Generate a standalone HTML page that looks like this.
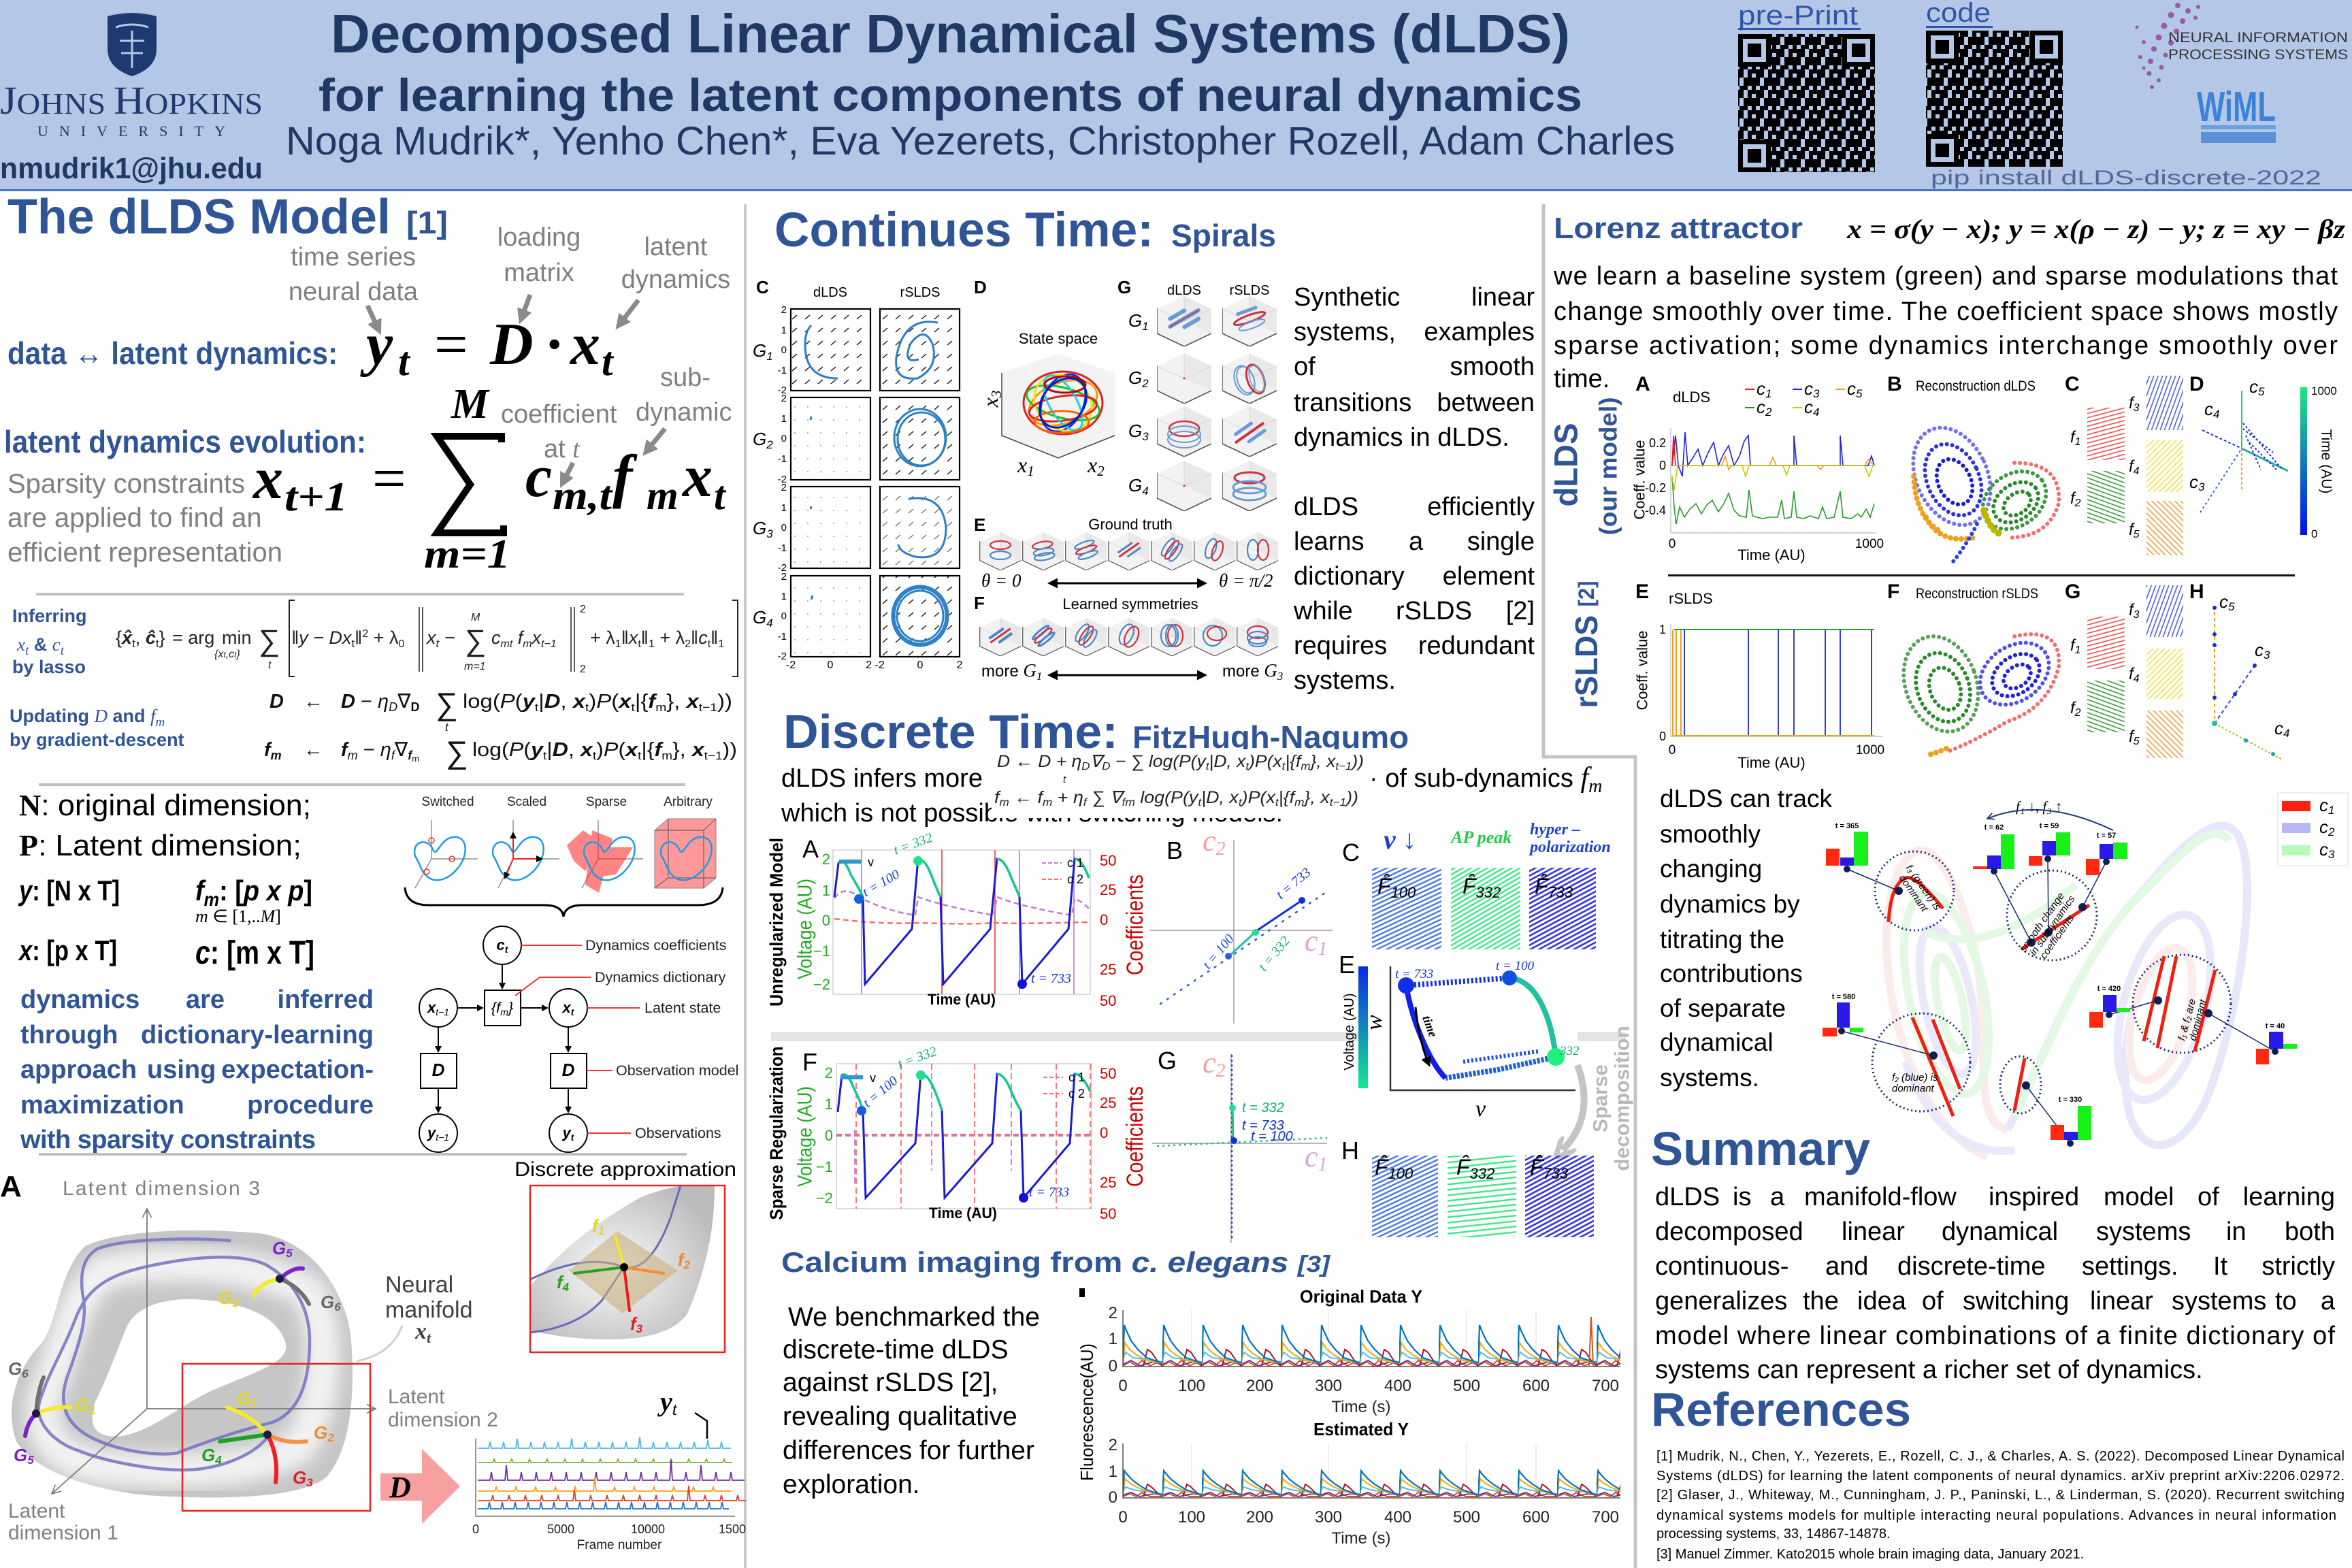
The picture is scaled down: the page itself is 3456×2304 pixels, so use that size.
<!DOCTYPE html>
<html><head><meta charset="utf-8"><title>dLDS poster</title>
<style>
html,body{margin:0;padding:0;background:#fff;width:3456px;height:2304px;overflow:hidden}
svg{display:block}
text{font-family:"Liberation Sans",sans-serif}
.sr{font-family:"Liberation Serif",serif}
.m{font-family:"Liberation Serif",serif;font-style:italic}
.mb{font-family:"Liberation Serif",serif;font-style:italic;font-weight:bold}
.hb{font-weight:bold;fill:#2f5597}
.g{fill:#7f7f7f}
</style></head><body>
<svg width="3456" height="2304" viewBox="0 0 3456 2304" xmlns="http://www.w3.org/2000/svg">
<defs>
<marker id="ak" viewBox="0 0 10 10" refX="8" refY="5" markerWidth="5" markerHeight="5" orient="auto-start-reverse"><path d="M0,0L10,5L0,10z" fill="#000"/></marker>
<marker id="ag" viewBox="0 0 10 10" refX="6" refY="5" markerWidth="3.2" markerHeight="3.2" orient="auto"><path d="M0,0L10,5L0,10z" fill="#8a8a8a"/></marker>
<marker id="ao" viewBox="0 0 10 10" refX="9" refY="5" markerWidth="9" markerHeight="9" orient="auto"><path d="M1,1L9,5L1,9" fill="none" stroke="#777" stroke-width="1"/></marker>
<marker id="an" viewBox="0 0 10 10" refX="9" refY="5" markerWidth="6" markerHeight="6" orient="auto"><path d="M1,1L9,5L1,9" fill="none" stroke="#203a70" stroke-width="1.5"/></marker>
<marker id="agr" viewBox="0 0 10 10" refX="5" refY="5" markerWidth="3" markerHeight="3" orient="auto"><path d="M0,0L10,5L0,10" fill="none" stroke="#c4c4c4" stroke-width="2.5"/></marker>
<pattern id="qr" width="30" height="30" patternUnits="userSpaceOnUse">
<rect x="0" y="0" width="6" height="6"/><rect x="12" y="0" width="6" height="6"/><rect x="18" y="0" width="6" height="6"/><rect x="24" y="0" width="6" height="6"/>
<rect x="6" y="6" width="6" height="6"/><rect x="12" y="6" width="6" height="6"/><rect x="24" y="6" width="6" height="6"/>
<rect x="0" y="12" width="6" height="6"/><rect x="6" y="12" width="6" height="6"/><rect x="18" y="12" width="6" height="6"/><rect x="24" y="12" width="6" height="6"/>
<rect x="0" y="18" width="6" height="6"/><rect x="6" y="18" width="6" height="6"/><rect x="18" y="18" width="6" height="6"/>
<rect x="0" y="24" width="6" height="6"/><rect x="12" y="24" width="6" height="6"/><rect x="18" y="24" width="6" height="6"/><rect x="24" y="24" width="6" height="6"/>
</pattern>
<pattern id="hbl" width="6" height="6" patternUnits="userSpaceOnUse" patternTransform="rotate(65)"><rect width="2.4" height="6" fill="#4a78e0"/></pattern>
<pattern id="hgr" width="6" height="6" patternUnits="userSpaceOnUse" patternTransform="rotate(60)"><rect width="2.4" height="6" fill="#3ee88a"/></pattern>
<pattern id="hvi" width="6" height="6" patternUnits="userSpaceOnUse" patternTransform="rotate(62)"><rect width="2.6" height="6" fill="#3434e0"/></pattern>
<pattern id="hgh" width="8" height="8" patternUnits="userSpaceOnUse" patternTransform="rotate(-6)"><rect width="8" height="2.4" fill="#3ee88a"/></pattern>
<pattern id="qv" width="19" height="19" patternUnits="userSpaceOnUse"><path d="M5,13L12,7" stroke="#111" stroke-width="1.4"/></pattern>
<pattern id="dt" width="19" height="19" patternUnits="userSpaceOnUse"><circle cx="9" cy="9" r="0.9" fill="#777"/></pattern>
<pattern id="pr" width="6" height="6" patternUnits="userSpaceOnUse" patternTransform="rotate(75)"><rect width="1.6" height="6" fill="#e85050"/></pattern>
<pattern id="pg" width="6" height="6" patternUnits="userSpaceOnUse" patternTransform="rotate(110)"><rect width="1.6" height="6" fill="#3a9a3a"/></pattern>
<pattern id="pb" width="6" height="6" patternUnits="userSpaceOnUse" patternTransform="rotate(20)"><rect width="1.6" height="6" fill="#5060e0"/></pattern>
<pattern id="py" width="6" height="6" patternUnits="userSpaceOnUse" patternTransform="rotate(45)"><rect width="1.6" height="6" fill="#f0e040"/></pattern>
<pattern id="po" width="6" height="6" patternUnits="userSpaceOnUse" patternTransform="rotate(135)"><rect width="1.6" height="6" fill="#f0a040"/></pattern>
<pattern id="ca1" x="1650" y="1925" width="58" height="84" patternUnits="userSpaceOnUse">
<path d="M0,72 L4,62 L15,70 L58,76" fill="none" stroke="#4dbeee" stroke-width="2"/>
<path d="M0,82 L10,76 L20,82 L28,74 L40,82 L50,77 L58,82" fill="none" stroke="#d95319" stroke-width="2"/>
<path d="M0,80 L12,74 L25,82 L45,76 L58,80" fill="none" stroke="#7e2f8e" stroke-width="2"/>
<path d="M30,82 L36,58 L42,62 L50,74 L58,82" fill="none" stroke="#a2142f" stroke-width="2"/>
<path d="M0,78 L3,48 L10,58 L20,66 L35,74 L58,78" fill="none" stroke="#edb120" stroke-width="2.2"/>
<path d="M0,78 L2,22 L5,30 L12,45 L22,58 L35,70 L58,78" fill="none" stroke="#0072bd" stroke-width="2.2"/>
</pattern>
<pattern id="ca2" x="1650" y="2121" width="58" height="80" patternUnits="userSpaceOnUse">
<path d="M0,70 L4,64 L15,68 L58,74" fill="none" stroke="#4dbeee" stroke-width="2"/>
<path d="M0,78 L10,74 L20,78 L28,72 L40,78 L58,78" fill="none" stroke="#d95319" stroke-width="2"/>
<path d="M0,76 L12,72 L25,78 L45,74 L58,76" fill="none" stroke="#7e2f8e" stroke-width="2"/>
<path d="M30,78 L36,60 L42,64 L50,72 L58,78" fill="none" stroke="#a2142f" stroke-width="2"/>
<path d="M0,76 L3,52 L10,58 L20,64 L35,70 L58,76" fill="none" stroke="#edb120" stroke-width="2.2"/>
<path d="M0,76 L2,40 L5,44 L12,52 L22,60 L35,68 L58,76" fill="none" stroke="#0072bd" stroke-width="2.2"/>
</pattern>
<linearGradient id="cb1" x1="0" y1="0" x2="0" y2="1"><stop offset="0" stop-color="#0a2ae6"/><stop offset="1" stop-color="#15e890"/></linearGradient>
<linearGradient id="cb2" x1="0" y1="0" x2="0" y2="1"><stop offset="0" stop-color="#20e880"/><stop offset="1" stop-color="#0010ee"/></linearGradient>
<radialGradient id="blob2" cx="0.45" cy="0.55" r="0.6"><stop offset="0" stop-color="#fbfbfb"/><stop offset="1" stop-color="#bcbcbc"/></radialGradient>
<filter id="bl"><feGaussianBlur stdDeviation="12"/></filter>
<clipPath id="ringclip"><path clip-rule="evenodd" d="M125,1831 C180,1805 300,1805 380,1812 C460,1822 510,1900 516,1970 C522,2050 515,2130 480,2170 C440,2205 300,2203 214,2197 C150,2190 60,2170 25,2120 C5,2070 25,2010 60,1975 C85,1945 85,1870 125,1831 Z M186,1950 C200,1920 240,1905 300,1910 C360,1915 410,1935 420,1975 C425,2000 380,2015 321,2039 C270,2060 230,2100 180,2110 C135,2115 130,2090 140,2060 C155,2030 170,1990 186,1950 Z"/></clipPath>
<clipPath id="dclip"><rect x="779" y="1742" width="286" height="245"/></clipPath>
<symbol id="cb" viewBox="-40 -37 80 74"><polygon points="0,-37 40,-18 40,18 0,37 -40,18 -40,-18" fill="#f2f2f2"/><polygon points="0,-37 40,-18 40,18 0,0" fill="#e9e9e9"/><polyline points="-40,-20 -40,18 0,37 40,18" fill="none" stroke="#555" stroke-width="1.6"/><line x1="0" y1="0" x2="0" y2="-37" stroke="#d8d8d8"/><line x1="0" y1="0" x2="-40" y2="-18" stroke="#d8d8d8"/><line x1="0" y1="0" x2="40" y2="-18" stroke="#d8d8d8"/></symbol>
<path id="loop" d="M-38,-2 C-44,-24 -20,-30 -12,-12 C-6,2 -2,-28 18,-30 C40,-32 40,-4 26,14 C14,30 -6,40 -20,28 C-30,20 -30,10 -38,-2Z" fill="none" stroke="#1e9be8" stroke-width="2.5"/>
</defs>

<!-- ================= HEADER ================= -->
<rect x="0" y="0" width="3456" height="280" fill="#b4c7e7"/>
<rect x="0" y="278" width="3456" height="3" fill="#4472c4"/>
<text x="486" y="77" font-size="80" font-weight="bold" fill="#203864" textLength="1821" lengthAdjust="spacingAndGlyphs">Decomposed Linear Dynamical Systems (dLDS)</text>
<text x="468" y="163" font-size="68" font-weight="bold" fill="#203864" textLength="1857" lengthAdjust="spacingAndGlyphs">for learning the latent components of neural dynamics</text>
<text x="420" y="227" font-size="58" fill="#203864" textLength="2041" lengthAdjust="spacingAndGlyphs">Noga Mudrik*, Yenho Chen*, Eva Yezerets, Christopher Rozell, Adam Charles</text>
<!-- JHU -->
<path d="M158,24 Q194,14 230,24 L230,72 Q230,100 194,112 Q158,100 158,72 Z" fill="#1f3a70"/>
<path d="M170,40 Q194,32 218,40 M194,45 L194,100 M176,60 L212,60 M178,78 L210,78" stroke="#b4c7e7" stroke-width="3" fill="none"/>
<text y="167" class="sr" fill="#1f3a70" textLength="386" lengthAdjust="spacingAndGlyphs" x="0"><tspan font-size="58">J</tspan><tspan font-size="44">OHNS </tspan><tspan font-size="58">H</tspan><tspan font-size="44">OPKINS</tspan></text>
<text x="55" y="200" class="sr" font-size="22" fill="#1f3a70" textLength="276" lengthAdjust="spacing">UNIVERSITY</text>
<text x="0" y="262" font-size="44" font-weight="bold" fill="#203864" textLength="386" lengthAdjust="spacingAndGlyphs">nmudrik1@jhu.edu</text>
<!-- QR codes -->
<text x="2554" y="36" font-size="40" fill="#2e56a8" textLength="176" lengthAdjust="spacingAndGlyphs">pre-Print</text>
<rect x="2554" y="41" width="180" height="3" fill="#2e56a8"/>
<rect x="2554" y="50" width="201" height="203" fill="url(#qr)"/>
<g><rect x="2554" y="50" width="48" height="48"/><rect x="2561" y="57" width="34" height="34" fill="#b4c7e7"/><rect x="2568" y="64" width="20" height="20"/>
<rect x="2707" y="50" width="48" height="48"/><rect x="2714" y="57" width="34" height="34" fill="#b4c7e7"/><rect x="2721" y="64" width="20" height="20"/>
<rect x="2554" y="205" width="48" height="48"/><rect x="2561" y="212" width="34" height="34" fill="#b4c7e7"/><rect x="2568" y="219" width="20" height="20"/></g>
<text x="2830" y="32" font-size="40" fill="#2e56a8" textLength="95" lengthAdjust="spacingAndGlyphs">code</text>
<rect x="2830" y="38" width="98" height="3" fill="#2e56a8"/>
<rect x="2830" y="45" width="201" height="200" fill="url(#qr)"/>
<g><rect x="2830" y="45" width="48" height="48"/><rect x="2837" y="52" width="34" height="34" fill="#b4c7e7"/><rect x="2844" y="59" width="20" height="20"/>
<rect x="2983" y="45" width="48" height="48"/><rect x="2990" y="52" width="34" height="34" fill="#b4c7e7"/><rect x="2997" y="59" width="20" height="20"/>
<rect x="2830" y="197" width="48" height="48"/><rect x="2837" y="204" width="34" height="34" fill="#b4c7e7"/><rect x="2844" y="211" width="20" height="20"/></g>
<text x="2837" y="271" font-size="30" font-family="Liberation Mono, monospace" fill="#52679c" textLength="574" lengthAdjust="spacingAndGlyphs">pip install dLDS-discrete-2022</text>
<!-- NeurIPS -->
<g fill="#9a5aa8">
<circle cx="3200" cy="8" r="4"/><circle cx="3215" cy="16" r="4"/><circle cx="3190" cy="22" r="4.5"/><circle cx="3207" cy="31" r="4"/><circle cx="3180" cy="38" r="4.5"/><circle cx="3198" cy="46" r="4"/><circle cx="3172" cy="55" r="4.5"/><circle cx="3190" cy="63" r="4"/><circle cx="3165" cy="72" r="4"/><circle cx="3182" cy="81" r="3.5"/><circle cx="3160" cy="90" r="4"/><circle cx="3176" cy="99" r="3.5"/><circle cx="3158" cy="108" r="3.5"/><circle cx="3172" cy="118" r="3"/><circle cx="3162" cy="128" r="3"/><circle cx="3150" cy="62" r="3"/><circle cx="3145" cy="84" r="3"/><circle cx="3226" cy="26" r="3"/><circle cx="3230" cy="10" r="3"/><circle cx="3140" cy="40" r="2.5"/><circle cx="3150" cy="100" r="2.5"/>
</g>
<text x="3186" y="62" font-size="21" fill="#333" textLength="264" lengthAdjust="spacingAndGlyphs">NEURAL INFORMATION</text>
<text x="3186" y="87" font-size="21" fill="#333" textLength="264" lengthAdjust="spacingAndGlyphs">PROCESSING SYSTEMS</text>
<text x="3228" y="178" font-size="62" font-weight="bold" fill="#3b82d8" textLength="116" lengthAdjust="spacingAndGlyphs">WiML</text>
<rect x="3234" y="184" width="110" height="6" fill="#6aa0e0"/>
<rect x="3234" y="194" width="110" height="16" fill="#5a90d8"/>

<!-- ============ DIVIDERS ============ -->
<rect x="1093" y="300" width="4" height="2004" fill="#c8c8c8"/>
<path d="M2268,300 L2268,1112 L2403,1112 L2403,2304" fill="none" stroke="#c4c4c4" stroke-width="5"/>

<!-- ================= LEFT COLUMN ================= -->
<text x="11" y="343" font-size="72" class="hb" textLength="563" lengthAdjust="spacingAndGlyphs">The dLDS Model</text>
<text x="597" y="343" font-size="46" class="hb" textLength="61" lengthAdjust="spacingAndGlyphs">[1]</text>
<g font-size="38" class="g" text-anchor="middle">
<text x="519" y="390">time series</text><text x="519" y="441">neural data</text>
<text x="792" y="361">loading</text><text x="792" y="413">matrix</text>
<text x="993" y="375">latent</text><text x="993" y="423">dynamics</text>
</g>
<g stroke="#8a8a8a" stroke-width="7" marker-end="url(#ag)">
<line x1="540" y1="449" x2="556" y2="484"/>
<line x1="779" y1="433" x2="766" y2="468"/>
<line x1="938" y1="441" x2="910" y2="477"/>
<line x1="977" y1="630" x2="950" y2="663"/>
<line x1="842" y1="680" x2="827" y2="709"/>
</g>
<text x="11" y="535" font-size="46" class="hb" textLength="485" lengthAdjust="spacingAndGlyphs">data ↔ latent dynamics:</text>
<text class="mb" font-size="88" x="538" y="535">y</text><text class="mb" font-size="60" x="585" y="551">t</text>
<text class="sr" font-size="88" x="638" y="535">=</text>
<text class="mb" font-size="88" x="720" y="535">D</text>
<text class="sr" font-size="88" font-weight="bold" x="800" y="535">·</text>
<text class="mb" font-size="88" x="838" y="535">x</text><text class="mb" font-size="60" x="884" y="551">t</text>
<g font-size="38" class="g">
<text x="970" y="567">sub-</text>
<text x="736" y="621">coefficient</text>
<text x="934" y="618">dynamic</text>
<text x="799" y="672">at <tspan class="m">t</tspan></text>
</g>
<text class="mb" font-size="62" x="663" y="614">M</text>
<path d="M737,650 L737,641 L642,641 L691,712 L642,783 L740,783 L740,772" fill="none" stroke="#000" stroke-width="10"/>
<text class="mb" font-size="60" x="623" y="834" textLength="127" lengthAdjust="spacingAndGlyphs">m=1</text>
<text x="6" y="665" font-size="46" class="hb" textLength="532" lengthAdjust="spacingAndGlyphs">latent dynamics evolution:</text>
<text class="mb" font-size="88" x="372" y="732">x</text><text class="mb" font-size="60" x="418" y="750" textLength="93" lengthAdjust="spacingAndGlyphs">t+1</text>
<text class="sr" font-size="88" x="547" y="732">=</text>
<text class="mb" font-size="88" x="772" y="729">c</text><text class="mb" font-size="60" x="812" y="748" textLength="87" lengthAdjust="spacingAndGlyphs">m,t</text>
<text class="mb" font-size="88" x="900" y="729">f</text><text class="mb" font-size="60" x="950" y="748">m</text>
<text class="mb" font-size="88" x="1003" y="729">x</text><text class="mb" font-size="60" x="1049" y="748">t</text>
<g font-size="40" class="g">
<text x="11" y="724">Sparsity constraints</text>
<text x="11" y="774">are applied  to find an</text>
<text x="11" y="825">efficient representation</text>
</g>
<rect x="53" y="871" width="952" height="4" fill="#bfbfbf"/>
<!-- lasso -->
<g font-size="27" class="hb">
<text x="18" y="914">Inferring</text>
<text x="25" y="956"><tspan class="m" font-weight="normal">x</tspan><tspan class="m" font-weight="normal" font-size="19" dy="6">t</tspan><tspan dy="-6"> &amp; </tspan><tspan class="m" font-weight="normal">c</tspan><tspan class="m" font-weight="normal" font-size="19" dy="6">t</tspan></text>
<text x="18" y="989">by lasso</text>
</g>
<g class="sr" font-size="27" fill="#222">
<text x="170" y="946">{<tspan font-style="italic" font-weight="bold">x̂</tspan><tspan font-size="17" dy="5">t</tspan><tspan dy="-5">, </tspan><tspan font-style="italic" font-weight="bold">ĉ</tspan><tspan font-size="17" dy="5">t</tspan><tspan dy="-5">}</tspan></text>
<text x="253" y="946">= arg</text><text x="326" y="946">min</text>
<text x="315" y="966" font-size="16" font-style="italic">{x<tspan font-size="12">t</tspan>,c<tspan font-size="12">t</tspan>}</text>
<text x="380" y="956" font-size="44">∑</text><text x="394" y="982" font-size="16" font-style="italic">t</text>
<text x="428" y="946"><tspan font-style="italic">‖y − Dx</tspan><tspan font-size="17" dy="5">t</tspan><tspan dy="-5">‖</tspan><tspan font-size="16" dy="-10">2</tspan><tspan dy="10"> + λ</tspan><tspan font-size="16" dy="5">0</tspan></text>
<text x="627" y="946" font-style="italic">x<tspan font-size="17" dy="5">t</tspan><tspan dy="-5"> −</tspan></text>
<text x="683" y="956" font-size="44">∑</text><text x="692" y="912" font-size="16" font-style="italic">M</text><text x="682" y="984" font-size="16" font-style="italic">m=1</text>
<text x="722" y="946" font-style="italic">c<tspan font-size="16" dy="5">mt</tspan><tspan dy="-5"> f</tspan><tspan font-size="16" dy="5">m</tspan><tspan dy="-5">x</tspan><tspan font-size="16" dy="5">t−1</tspan></text>
<text x="852" y="900" font-size="16">2</text><text x="852" y="988" font-size="16">2</text>
<text x="867" y="946">+ λ<tspan font-size="16" dy="5">1</tspan><tspan dy="-5">‖</tspan><tspan font-style="italic">x</tspan><tspan font-size="16" dy="5">t</tspan><tspan dy="-5">‖</tspan><tspan font-size="16" dy="5">1</tspan><tspan dy="-5"> + λ</tspan><tspan font-size="16" dy="5">2</tspan><tspan dy="-5">‖</tspan><tspan font-style="italic">c</tspan><tspan font-size="16" dy="5">t</tspan><tspan dy="-5">‖</tspan><tspan font-size="16" dy="5">1</tspan></text>
</g>
<path d="M433,882 L425,882 L425,994 L433,994 M1076,882 L1084,882 L1084,994 L1076,994" fill="none" stroke="#222" stroke-width="2"/>
<path d="M616,892 L616,987 M621,892 L621,987 M839,892 L839,987 M844,892 L844,987" stroke="#222" stroke-width="1.5"/>
<g font-size="27" class="hb">
<text x="14" y="1061">Updating <tspan class="m" font-weight="normal">D</tspan> and <tspan class="m" font-weight="normal">f</tspan><tspan class="m" font-weight="normal" font-size="19" dy="6">m</tspan></text>
<text x="14" y="1096">by gradient-descent</text>
</g>
<g class="sr" font-size="29" fill="#111">
<text x="396" y="1040" font-style="italic" font-weight="bold">D</text>
<text x="446" y="1040">←</text>
<text x="501" y="1040"><tspan font-style="italic" font-weight="bold">D</tspan> − <tspan font-style="italic">η</tspan><tspan font-size="18" dy="5" font-style="italic">D</tspan><tspan dy="-5">∇</tspan><tspan font-size="18" dy="5" font-weight="bold">D</tspan></text>
<text x="640" y="1050" font-size="46">∑</text><text x="654" y="1074" font-size="17" font-style="italic">t</text>
<text x="680" y="1040" textLength="396" lengthAdjust="spacingAndGlyphs">log(<tspan font-style="italic">P</tspan>(<tspan font-style="italic" font-weight="bold">y</tspan><tspan font-size="17" dy="5">t</tspan><tspan dy="-5">|</tspan><tspan font-weight="bold" font-style="italic">D</tspan>, <tspan font-weight="bold" font-style="italic">x</tspan><tspan font-size="17" dy="5">t</tspan><tspan dy="-5">)</tspan><tspan font-style="italic">P</tspan>(<tspan font-weight="bold" font-style="italic">x</tspan><tspan font-size="17" dy="5">t</tspan><tspan dy="-5">|{</tspan><tspan font-weight="bold" font-style="italic">f</tspan><tspan font-size="17" dy="5">m</tspan><tspan dy="-5">}, </tspan><tspan font-weight="bold" font-style="italic">x</tspan><tspan font-size="17" dy="5">t−1</tspan><tspan dy="-5">))</tspan></text>
<text x="388" y="1111" font-style="italic" font-weight="bold">f<tspan font-size="18" dy="5">m</tspan></text>
<text x="446" y="1111">←</text>
<text x="501" y="1111"><tspan font-style="italic" font-weight="bold">f</tspan><tspan font-size="18" dy="5" font-style="italic">m</tspan><tspan dy="-5"> − </tspan><tspan font-style="italic">η</tspan><tspan font-size="18" dy="5" font-style="italic">f</tspan><tspan dy="-5">∇</tspan><tspan font-size="18" dy="5" font-weight="bold" font-style="italic">f</tspan><tspan font-size="13" dy="3">m</tspan></text>
<text x="655" y="1121" font-size="46">∑</text>
<text x="694" y="1111" textLength="389" lengthAdjust="spacingAndGlyphs">log(<tspan font-style="italic">P</tspan>(<tspan font-style="italic" font-weight="bold">y</tspan><tspan font-size="17" dy="5">t</tspan><tspan dy="-5">|</tspan><tspan font-weight="bold" font-style="italic">D</tspan>, <tspan font-weight="bold" font-style="italic">x</tspan><tspan font-size="17" dy="5">t</tspan><tspan dy="-5">)</tspan><tspan font-style="italic">P</tspan>(<tspan font-weight="bold" font-style="italic">x</tspan><tspan font-size="17" dy="5">t</tspan><tspan dy="-5">|{</tspan><tspan font-weight="bold" font-style="italic">f</tspan><tspan font-size="17" dy="5">m</tspan><tspan dy="-5">}, </tspan><tspan font-weight="bold" font-style="italic">x</tspan><tspan font-size="17" dy="5">t−1</tspan><tspan dy="-5">))</tspan></text>
</g>
<rect x="57" y="1151" width="950" height="4" fill="#bfbfbf"/>
<!-- dimensions -->
<text x="28" y="1198" font-size="44" textLength="429" lengthAdjust="spacingAndGlyphs"><tspan class="sr" font-weight="bold">N</tspan>: original dimension;</text>
<text x="28" y="1257" font-size="44" textLength="415" lengthAdjust="spacingAndGlyphs"><tspan class="sr" font-weight="bold">P</tspan>: Latent  dimension;</text>
<g class="sr" font-weight="bold" font-size="42">
<text x="28" y="1323" textLength="148" lengthAdjust="spacingAndGlyphs"><tspan font-style="italic">y</tspan>: [N x T]</text>
<text x="287" y="1323" textLength="172" lengthAdjust="spacingAndGlyphs"><tspan font-style="italic">f</tspan><tspan font-size="28" dy="8" font-style="italic">m</tspan><tspan dy="-8">: [</tspan><tspan font-style="italic">p x p</tspan>]</text>
<text x="28" y="1411" textLength="144" lengthAdjust="spacingAndGlyphs"><tspan font-style="italic">x</tspan>: [p x T]</text>
<text x="287" y="1416" font-size="48" textLength="175" lengthAdjust="spacingAndGlyphs"><tspan font-style="italic">c</tspan>: [m x T]</text>
</g>
<text x="287" y="1355" class="sr" font-size="26"><tspan font-style="italic">m</tspan> ∈ [1,..<tspan font-style="italic">M</tspan>]</text>
<g font-size="38" class="hb">
<text x="30" y="1481">dynamics</text><text x="273" y="1481">are</text><text x="549" y="1481" text-anchor="end">inferred</text>
<text x="30" y="1533">through</text><text x="549" y="1533" text-anchor="end">dictionary-learning</text>
<text x="30" y="1584">approach</text><text x="216" y="1584">using</text><text x="549" y="1584" text-anchor="end">expectation-</text>
<text x="30" y="1636">maximization</text><text x="549" y="1636" text-anchor="end">procedure</text>
<text x="30" y="1687" textLength="434" lengthAdjust="spacing">with sparsity constraints</text>
</g>
<!-- switching icons -->
<g font-size="19" text-anchor="middle" fill="#222"><text x="658" y="1184">Switched</text><text x="774" y="1184">Scaled</text><text x="891" y="1184">Sparse</text><text x="1011" y="1184">Arbitrary</text></g>
<g stroke="#777" stroke-width="1.2"><line x1="634" y1="1205" x2="634" y2="1262"/><line x1="634" y1="1262" x2="702" y2="1262"/><line x1="634" y1="1262" x2="610" y2="1305"/>
<line x1="754" y1="1205" x2="754" y2="1262"/><line x1="754" y1="1262" x2="822" y2="1262"/><line x1="754" y1="1262" x2="732" y2="1305"/>
<line x1="879" y1="1205" x2="879" y2="1262"/><line x1="879" y1="1262" x2="945" y2="1262"/><line x1="879" y1="1262" x2="855" y2="1305"/></g>
<use href="#loop" x="648" y="1260"/>
<g fill="none" stroke="#e33" stroke-width="1.5"><circle cx="634" cy="1235" r="4"/><circle cx="664" cy="1262" r="4"/><circle cx="627" cy="1281" r="4"/></g>
<use href="#loop" x="763" y="1260"/>
<g stroke="#e22" stroke-width="2" marker-end="url(#ak)"><line x1="754" y1="1262" x2="754" y2="1224"/><line x1="754" y1="1262" x2="796" y2="1262"/><line x1="754" y1="1262" x2="742" y2="1290"/></g>
<g fill="#ff2020" opacity="0.55"><polygon points="833,1242 857,1220 885,1240 860,1280 843,1265"/><polygon points="855,1245 930,1245 905,1285 870,1290"/><polygon points="870,1220 900,1232 880,1312 860,1300"/></g>
<use href="#loop" x="897" y="1260"/>
<polygon points="962,1220 982,1203 1052,1203 1052,1290 1034,1305 962,1305" fill="#ff8080" opacity="0.8" stroke="#666"/>
<path d="M962,1220 L1034,1220 L1052,1203 M1034,1220 L1034,1305 M962,1305 L982,1290 L1052,1290 M982,1203 L982,1290" fill="none" stroke="#666" stroke-width="1.2"/>
<use href="#loop" x="1010" y="1260"/>
<path d="M595,1304 Q597,1330 630,1330 L800,1330 Q826,1330 828,1347 Q830,1330 856,1330 L1025,1330 Q1060,1330 1062,1304" fill="none" stroke="#000" stroke-width="3"/>
<!-- graphical model -->
<g stroke="#000" stroke-width="2" fill="#fff">
<circle cx="738" cy="1389" r="28"/><rect x="712" y="1455" width="53" height="52"/>
<circle cx="644" cy="1481" r="28"/><circle cx="835" cy="1481" r="28"/>
<rect x="618" y="1548" width="53" height="51"/><rect x="809" y="1548" width="53" height="51"/>
<circle cx="644" cy="1665" r="28"/><circle cx="835" cy="1665" r="28"/>
</g>
<g stroke="#000" stroke-width="2" marker-end="url(#ak)">
<line x1="738" y1="1417" x2="738" y2="1452"/><line x1="672" y1="1481" x2="709" y2="1481"/><line x1="765" y1="1481" x2="804" y2="1481"/>
<line x1="644" y1="1509" x2="644" y2="1545"/><line x1="835" y1="1509" x2="835" y2="1545"/>
<line x1="644" y1="1599" x2="644" y2="1634"/><line x1="835" y1="1599" x2="835" y2="1634"/>
</g>
<g fill="none" stroke="#e33" stroke-width="2"><path d="M766,1389 H855"/><path d="M757,1463 L793,1436 H868"/><path d="M863,1481 H940"/><path d="M862,1573 H900"/><path d="M863,1665 H927"/></g>
<g class="mb" font-size="22" text-anchor="middle">
<text x="738" y="1396">c<tspan font-size="14" dy="4">t</tspan></text>
<text x="738" y="1488" font-weight="normal">{f<tspan font-size="14" dy="4">m</tspan><tspan dy="-4">}</tspan></text>
<text x="644" y="1488">x<tspan font-size="14" dy="4" font-weight="normal">t−1</tspan></text>
<text x="835" y="1488">x<tspan font-size="14" dy="4">t</tspan></text>
<text x="644" y="1581" font-size="26">D</text><text x="835" y="1581" font-size="26">D</text>
<text x="644" y="1672">y<tspan font-size="14" dy="4" font-weight="normal">t−1</tspan></text>
<text x="835" y="1672">y<tspan font-size="14" dy="4">t</tspan></text>
</g>
<g font-size="21.5" fill="#222">
<text x="860" y="1396">Dynamics coefficients</text><text x="874" y="1443">Dynamics dictionary</text>
<text x="947" y="1488">Latent state</text><text x="905" y="1580">Observation model</text><text x="933" y="1672">Observations</text>
</g>
<rect x="57" y="1694" width="952" height="4" fill="#bfbfbf"/>
<!-- manifold figure -->
<text x="756" y="1728" font-size="30" textLength="326" lengthAdjust="spacingAndGlyphs">Discrete approximation</text>
<text x="0" y="1758" font-size="44" font-weight="bold">A</text>
<text x="92" y="1756" font-size="30" fill="#808080" textLength="290" lengthAdjust="spacing">Latent dimension 3</text>
<path fill-rule="evenodd" fill="#c6c6c6" d="M125,1831 C180,1805 300,1805 380,1812 C460,1822 510,1900 516,1970 C522,2050 515,2130 480,2170 C440,2205 300,2203 214,2197 C150,2190 60,2170 25,2120 C5,2070 25,2010 60,1975 C85,1945 85,1870 125,1831 Z M186,1950 C200,1920 240,1905 300,1910 C360,1915 410,1935 420,1975 C425,2000 380,2015 321,2039 C270,2060 230,2100 180,2110 C135,2115 130,2090 140,2060 C155,2030 170,1990 186,1950 Z"/>
<g clip-path="url(#ringclip)"><path d="M150,1870 C230,1850 380,1852 455,1900 C485,1960 480,2060 440,2125 C380,2165 250,2165 150,2155 C70,2145 50,2090 70,2040 C95,1990 100,1915 150,1870 Z" fill="none" stroke="#f2f2f2" stroke-width="50" filter="url(#bl)"/></g>
<g stroke="#7a7a7a" stroke-width="1.8" fill="none">
<line x1="216" y1="2070" x2="216" y2="1776" marker-end="url(#ao)"/>
<line x1="216" y1="2070" x2="552" y2="2070" marker-end="url(#ao)"/>
<line x1="216" y1="2070" x2="76" y2="2195" marker-end="url(#ao)"/>
</g>
<path d="M339,1823 C280,1818 180,1820 143,1835 C118,1850 118,1880 122,1905 C128,1935 120,1965 100,2020 C85,2060 95,2090 130,2110 C170,2132 230,2140 260,2135 C300,2120 340,2105 400,2090 C440,2075 455,2030 455,1970 C455,1920 430,1880 390,1858 C350,1840 280,1848 230,1858 C170,1870 130,1885 110,1940 C95,1980 70,2020 58,2060 C50,2090 80,2120 114,2131 C160,2150 230,2160 268,2160 C320,2160 370,2140 393,2112" fill="none" stroke="#7272c0" stroke-width="4.5" opacity="0.85"/>
<g fill="none" stroke-width="6" stroke-linecap="round">
<path d="M411,1879 Q430,1862 445,1864" stroke="#7b22c8"/><path d="M411,1879 Q440,1890 454,1916" stroke="#707070"/><path d="M411,1879 Q380,1885 373,1904" stroke="#f2ea30"/>
<path d="M53,2077 Q55,2045 64,2024" stroke="#707070"/><path d="M53,2077 Q80,2066 104,2068" stroke="#f2ea30"/><path d="M53,2077 Q40,2090 37,2110" stroke="#7b22c8"/>
<path d="M393,2108 Q370,2080 334,2068" stroke="#f2ea30"/><path d="M393,2108 L323,2118" stroke="#22a022"/><path d="M393,2108 Q420,2122 450,2118" stroke="#f89040"/><path d="M393,2108 Q410,2140 405,2178" stroke="#ee2020"/>
</g>
<g><circle cx="411" cy="1879" r="6" fill="#1a1a40"/><circle cx="53" cy="2077" r="6" fill="#1a1a40"/><circle cx="393" cy="2108" r="6" fill="#1a1a40"/></g>
<g class="mb" font-size="26">
<text x="400" y="1843" fill="#7b22c8">G<tspan font-size="17" dy="4">5</tspan></text>
<text x="321" y="1916" fill="#e0d820">G<tspan font-size="17" dy="4">1</tspan></text>
<text x="471" y="1922" fill="#666">G<tspan font-size="17" dy="4">6</tspan></text>
<text x="12" y="2020" fill="#666">G<tspan font-size="17" dy="4">6</tspan></text>
<text x="111" y="2074" fill="#e0d820">G<tspan font-size="17" dy="4">1</tspan></text>
<text x="20" y="2147" fill="#7b22c8">G<tspan font-size="17" dy="4">5</tspan></text>
<text x="348" y="2064" fill="#e0d820">G<tspan font-size="17" dy="4">1</tspan></text>
<text x="461" y="2114" fill="#f08a30">G<tspan font-size="17" dy="4">2</tspan></text>
<text x="296" y="2147" fill="#22a022">G<tspan font-size="17" dy="4">4</tspan></text>
<text x="430" y="2180" fill="#e02020">G<tspan font-size="17" dy="4">3</tspan></text>
</g>
<rect x="268" y="2004" width="276" height="216" fill="none" stroke="#ee2222" stroke-width="2.5"/>
<path d="M524,2000 Q575,1990 591,1948" fill="none" stroke="#cfcfcf" stroke-width="3"/>
<g font-size="34" fill="#404040"><text x="566" y="1899">Neural</text><text x="566" y="1936">manifold</text></g>
<text x="610" y="1967" class="mb" font-size="34" fill="#404040">x<tspan font-size="22" dy="6">t</tspan></text>
<g font-size="30" fill="#808080"><text x="570" y="2062">Latent</text><text x="570" y="2096">dimension 2</text><text x="12" y="2230">Latent</text><text x="12" y="2262">dimension 1</text></g>
<!-- discrete approx box -->
<g clip-path="url(#dclip)">
<path d="M779,1890 C830,1830 880,1795 940,1760 C980,1742 1040,1735 1050,1742 C1050,1800 1040,1860 1010,1930 C990,1960 940,1970 880,1968 C830,1966 800,1960 779,1955 Z" fill="url(#blob2)"/>
<path d="M779,1880 Q860,1840 917,1862 Q955,1870 985,1790 L1000,1742" fill="none" stroke="#6a6ab8" stroke-width="3"/>
<path d="M779,1958 Q850,1950 885,1910 Q905,1880 917,1862" fill="none" stroke="#6a6ab8" stroke-width="3"/>
</g>
<polygon points="836,1867 907,1809 996,1867 915,1930" fill="#c8b080" opacity="0.6"/>
<g stroke-width="4" stroke-linecap="round"><line x1="917" y1="1862" x2="904" y2="1816" stroke="#f2ea20"/><line x1="917" y1="1862" x2="975" y2="1871" stroke="#f88a30"/><line x1="917" y1="1862" x2="925" y2="1926" stroke="#ee1515"/><line x1="917" y1="1862" x2="844" y2="1871" stroke="#22a022"/></g>
<circle cx="917" cy="1862" r="6" fill="#000"/>
<g class="mb" font-size="26"><text x="870" y="1810" fill="#e0d820">f<tspan font-size="17" dy="4">1</tspan></text><text x="996" y="1860" fill="#f08a30">f<tspan font-size="17" dy="4">2</tspan></text><text x="926" y="1954" fill="#e02020">f<tspan font-size="17" dy="4">3</tspan></text><text x="818" y="1893" fill="#22a022">f<tspan font-size="17" dy="4">4</tspan></text></g>
<rect x="779" y="1742" width="286" height="245" fill="none" stroke="#ee2222" stroke-width="2.5"/>
<polygon points="559,2165 620,2165 620,2129 676,2184 620,2239 620,2205 559,2205" fill="#f6a0a0"/>
<text x="572" y="2200" class="mb" font-size="44">D</text>
<!-- y_t traces -->
<g fill="none" stroke-width="1.8">
<path stroke="#4db8e8" d="M702,2128 h16 l2,-9 l2,9 h16 l2,-9 l2,9 h16 l2,-14 l2,14 h16 l2,-9 l2,9 h16 l2,-9 l2,9 h16 l2,-9 l2,9 h16 l2,-14 l2,14 h16 l2,-9 l2,9 h16 l2,-9 l2,9 h16 l2,-9 l2,9 h16 l2,-9 l2,9 h16 l2,-16 l2,16 h16 l2,-9 l2,9 h16 l2,-9 l2,9 h16 l2,-9 l2,9 h16 l2,-9 l2,9 h16 l2,-12 l2,12 h16 l2,-9 l2,9 h12"/>
<path stroke="#7bb33a" d="M702,2149 h22 l2,-5 l2,5 h22 l2,-5 l2,5 h22 l2,-5 l2,5 h22 l2,-5 l2,5 h22 l2,-5 l2,5 h22 l2,-5 l2,5 h22 l2,-5 l2,5 h22 l2,-5 l2,5 h22 l2,-5 l2,5 h22 l2,-5 l2,5 h22 l2,-5 l2,5 h22 l2,-5 l2,5 h22 l2,-5 l2,5 h22 l2,-5 l2,5 h10"/>
<path stroke="#7030a0" d="M702,2175 h18 l2,-12 l2,12 h18 l2,-22 l2,22 h18 l2,-12 l2,12 h18 l2,-12 l2,12 h18 l2,-12 l2,12 h18 l2,-12 l2,12 h18 l2,-12 l2,12 h18 l2,-12 l2,12 h18 l2,-12 l2,12 h18 l2,-12 l2,12 h18 l2,-12 l2,12 h18 l2,-12 l2,12 h18 l2,-30 l2,30 h18 l2,-12 l2,12 h18 l2,-22 l2,22 h18 l2,-12 l2,12 h18 l2,-12 l2,12 h18"/>
<path stroke="#f0a020" d="M702,2191 h25 l2,-6 l2,6 h25 l2,-6 l2,6 h25 l2,-6 l2,6 h25 l2,-6 l2,6 h25 l2,-6 l2,6 h25 l2,-20 l2,20 h25 l2,-6 l2,6 h25 l2,-6 l2,6 h25 l2,-6 l2,6 h25 l2,-6 l2,6 h25 l2,-6 l2,6 h25 l2,-6 l2,6 h25"/>
<path stroke="#e04020" d="M702,2205 h20 l2,-8 l2,8 h20 l2,-8 l2,8 h20 l2,-8 l2,8 h20 l2,-8 l2,8 h20 l2,-8 l2,8 h20 l2,-16 l2,16 h20 l2,-8 l2,8 h20 l2,-8 l2,8 h20 l2,-8 l2,8 h20 l2,-8 l2,8 h20 l2,-8 l2,8 h20 l2,-8 l2,8 h20 l2,-22 l2,22 h20 l2,-8 l2,8 h20 l2,-8 l2,8 h20 l2,-8 l2,8 h10"/>
<path stroke="#2070d0" d="M702,2217 h15 l2,-10 l2,10 h15 l2,-10 l2,10 h15 l2,-10 l2,10 h15 l2,-10 l2,10 h15 l2,-10 l2,10 h15 l2,-10 l2,10 h15 l2,-10 l2,10 h15 l2,-10 l2,10 h15 l2,-10 l2,10 h15 l2,-10 l2,10 h15 l2,-10 l2,10 h15 l2,-10 l2,10 h15 l2,-10 l2,10 h15 l2,-10 l2,10 h15 l2,-10 l2,10 h15 l2,-10 l2,10 h15 l2,-10 l2,10 h15 l2,-10 l2,10 h15 l2,-10 l2,10 h8"/>
</g>
<path d="M699,2114 V2228 H1080" fill="none" stroke="#777" stroke-width="1.5"/>
<g font-size="18" text-anchor="middle" fill="#222"><text x="699" y="2253">0</text><text x="824" y="2253">5000</text><text x="952" y="2253">10000</text><text x="1076" y="2253">1500</text><text x="910" y="2276" font-size="19">Frame number</text></g>
<text x="970" y="2073" class="mb" font-size="40">y<tspan font-size="26" dy="6" font-weight="normal">t</tspan></text>
<path d="M1021,2076 L1039,2088 L1039,2114" fill="none" stroke="#000" stroke-width="2.5"/>

<!-- ================= MIDDLE COLUMN ================= -->
<text x="1138" y="362" font-size="71" class="hb" textLength="557" lengthAdjust="spacingAndGlyphs">Continues Time:</text>
<text x="1721" y="362" font-size="46" class="hb" textLength="154" lengthAdjust="spacingAndGlyphs">Spirals</text>
<!-- C panel -->
<g font-size="26" font-weight="bold"><text x="1111" y="431">C</text><text x="1431" y="431">D</text><text x="1642" y="431">G</text><text x="1431" y="780">E</text><text x="1431" y="895">F</text></g>
<g font-size="20" text-anchor="middle"><text x="1220" y="436">dLDS</text><text x="1352" y="436">rSLDS</text><text x="1740" y="433">dLDS</text><text x="1836" y="433">rSLDS</text></g>
<rect x="1162" y="454" width="117" height="120" fill="url(#qv)"/>
<rect x="1162" y="584" width="117" height="121" fill="url(#dt)"/>
<rect x="1162" y="715" width="117" height="120" fill="url(#dt)"/>
<rect x="1162" y="846" width="117" height="119" fill="url(#dt)"/>
<rect x="1293" y="454" width="117" height="120" fill="url(#qv)"/>
<rect x="1293" y="584" width="117" height="121" fill="url(#qv)"/>
<rect x="1293" y="715" width="117" height="120" fill="url(#qv)" opacity="0.6"/>
<rect x="1293" y="846" width="117" height="119" fill="url(#qv)"/>
<g fill="none" stroke="#000" stroke-width="2.2">
<rect x="1162" y="454" width="117" height="120"/><rect x="1162" y="584" width="117" height="121"/><rect x="1162" y="715" width="117" height="120"/><rect x="1162" y="846" width="117" height="119"/>
<rect x="1293" y="454" width="117" height="120"/><rect x="1293" y="584" width="117" height="121"/><rect x="1293" y="715" width="117" height="120"/><rect x="1293" y="846" width="117" height="119"/>
</g>
<g fill="none" stroke="#2a7fc8" stroke-width="3">
<path d="M1231,556 Q1190,556 1184,520 Q1180,490 1192,478"/>
<path d="M1378,474 Q1330,465 1318,520 Q1310,560 1348,556 Q1380,540 1370,505 Q1358,478 1338,505 Q1325,535 1350,528"/>
<ellipse cx="1352" cy="643" rx="38" ry="42"/><ellipse cx="1354" cy="645" rx="35" ry="39"/>
<path d="M1335,733 Q1385,725 1390,775 Q1390,825 1345,818 Q1322,812 1320,800"/>
<ellipse cx="1352" cy="905" rx="38" ry="41"/><ellipse cx="1352" cy="905" rx="34" ry="37"/><ellipse cx="1352" cy="905" rx="41" ry="44"/>
<path d="M1192,612 L1191,617 M1192,744 L1191,748 M1194,875 L1192,881"/>
</g>
<g font-size="15" text-anchor="end">
<text x="1156" y="460">2</text><text x="1156" y="490">1</text><text x="1156" y="519">0</text><text x="1156" y="549">-1</text><text x="1156" y="578">-2</text>
<text x="1156" y="590">2</text><text x="1156" y="620">1</text><text x="1156" y="649">0</text><text x="1156" y="679">-1</text><text x="1156" y="709">-2</text>
<text x="1156" y="721">2</text><text x="1156" y="751">1</text><text x="1156" y="780">0</text><text x="1156" y="810">-1</text><text x="1156" y="839">-2</text>
<text x="1156" y="852">2</text><text x="1156" y="881">1</text><text x="1156" y="910">0</text><text x="1156" y="940">-1</text><text x="1156" y="969">-2</text>
</g>
<g font-size="16" text-anchor="middle"><text x="1162" y="982">-2</text><text x="1220" y="982">0</text><text x="1286" y="982">2 -2</text><text x="1352" y="982">0</text><text x="1410" y="982">2</text></g>
<g class="m" font-size="26">
<text x="1106" y="524">G<tspan font-size="17" dy="5">1</tspan></text><text x="1106" y="654">G<tspan font-size="17" dy="5">2</tspan></text>
<text x="1106" y="785">G<tspan font-size="17" dy="5">3</tspan></text><text x="1106" y="916">G<tspan font-size="17" dy="5">4</tspan></text>
<text x="1658" y="480">G<tspan font-size="17" dy="5">1</tspan></text><text x="1658" y="564">G<tspan font-size="17" dy="5">2</tspan></text>
<text x="1658" y="642">G<tspan font-size="17" dy="5">3</tspan></text><text x="1658" y="722">G<tspan font-size="17" dy="5">4</tspan></text>
</g>
<!-- D state space -->
<polygon points="1555,520 1638,548 1638,640 1555,673 1472,640 1472,548" fill="#f3f3f3"/>
<polyline points="1472,548 1472,640 1555,673 1638,640" fill="none" stroke="#444" stroke-width="1.5"/>
<text x="1555" y="505" font-size="22" text-anchor="middle">State space</text>
<g fill="none" stroke-width="3">
<ellipse cx="1562" cy="592" rx="58" ry="46" stroke="#e02020"/>
<ellipse cx="1562" cy="592" rx="52" ry="30" stroke="#f0a000" transform="rotate(-20 1562 592)"/>
<ellipse cx="1562" cy="592" rx="55" ry="22" stroke="#20c020" transform="rotate(15 1562 592)"/>
<ellipse cx="1562" cy="592" rx="30" ry="44" stroke="#1030e0" transform="rotate(25 1562 592)"/>
<ellipse cx="1562" cy="592" rx="45" ry="38" stroke="#f0e020" transform="rotate(40 1562 592)"/>
<ellipse cx="1562" cy="600" rx="50" ry="18" stroke="#e02020" transform="rotate(-8 1562 600)"/>
<ellipse cx="1562" cy="592" rx="20" ry="45" stroke="#20d0e0" transform="rotate(-30 1562 592)"/>
<ellipse cx="1565" cy="565" rx="30" ry="12" stroke="#c00000"/>
<ellipse cx="1560" cy="620" rx="40" ry="16" stroke="#ff6000"/>
<ellipse cx="1562" cy="592" rx="40" ry="30" stroke="#0020c0" transform="rotate(-50 1562 592)"/>
</g>
<text transform="rotate(-90 1456 586)" x="1456" y="596" class="m" font-size="32" text-anchor="middle">x<tspan font-size="21" dy="5">3</tspan></text>
<text x="1495" y="694" class="m" font-size="32">x<tspan font-size="21" dy="5">1</tspan></text>
<text x="1598" y="694" class="m" font-size="32">x<tspan font-size="21" dy="5">2</tspan></text>
<!-- G cubes -->
<use href="#cb" x="1700" y="435" width="80" height="74"/><use href="#cb" x="1796" y="435" width="80" height="74"/>
<use href="#cb" x="1700" y="519" width="80" height="74"/><use href="#cb" x="1796" y="519" width="80" height="74"/>
<use href="#cb" x="1700" y="597" width="80" height="74"/><use href="#cb" x="1796" y="597" width="80" height="74"/>
<use href="#cb" x="1700" y="677" width="80" height="74"/><use href="#cb" x="1796" y="677" width="80" height="74"/>
<g fill="none" stroke-linecap="round">
<g transform="translate(1740 468) rotate(-30)"><line x1="-18" y1="-10" x2="6" y2="-10" stroke="#6a9ad8" stroke-width="6"/><line x1="-24" y1="0" x2="24" y2="0" stroke="#6a9ad8" stroke-width="6"/><line x1="-24" y1="0" x2="24" y2="0" stroke="#d03040" stroke-width="1.5"/><line x1="-6" y1="11" x2="18" y2="11" stroke="#6a9ad8" stroke-width="6"/></g>
<g transform="translate(1836 468) rotate(-20)"><line x1="-14" y1="-12" x2="14" y2="-12" stroke="#6a9ad8" stroke-width="5"/><ellipse rx="24" ry="5" stroke="#d03040" stroke-width="3"/><ellipse cy="10" rx="20" ry="5" stroke="#6a9ad8" stroke-width="2"/></g>
<circle cx="1740" cy="556" r="1.5" fill="#d03040"/>
<g transform="translate(1836 556) rotate(-20)"><ellipse cx="-8" rx="14" ry="22" stroke="#6a9ad8" stroke-width="2"/><ellipse cx="-6" rx="12" ry="20" stroke="#6a9ad8" stroke-width="2"/><ellipse cx="8" cy="4" rx="12" ry="22" stroke="#d03040" stroke-width="3"/><ellipse cx="10" cy="4" rx="10" ry="20" stroke="#6a9ad8" stroke-width="1.5"/></g>
<g transform="translate(1740 636)"><ellipse cx="0" cy="-6" rx="22" ry="11" stroke="#d03040" stroke-width="2.5"/><ellipse cx="0" cy="2" rx="24" ry="12" stroke="#6a9ad8" stroke-width="2"/><ellipse cx="0" cy="10" rx="24" ry="12" stroke="#6a9ad8" stroke-width="2"/></g>
<g transform="translate(1836 636) rotate(-35)"><line x1="-18" y1="-10" x2="10" y2="-10" stroke="#6a9ad8" stroke-width="5"/><line x1="-24" y1="0" x2="24" y2="0" stroke="#d03040" stroke-width="4"/><line x1="-8" y1="10" x2="20" y2="10" stroke="#6a9ad8" stroke-width="5"/></g>
<circle cx="1740" cy="714" r="1.5" fill="#d03040"/>
<g transform="translate(1836 714)"><ellipse cx="0" cy="-12" rx="22" ry="8" stroke="#d03040" stroke-width="3"/><ellipse cx="0" cy="2" rx="24" ry="9" stroke="#6a9ad8" stroke-width="3"/><ellipse cx="0" cy="12" rx="24" ry="9" stroke="#6a9ad8" stroke-width="3"/></g>
</g>
<!-- E/F rows -->
<text x="1661" y="778" font-size="22" text-anchor="middle">Ground truth</text>
<text x="1661" y="895" font-size="22" text-anchor="middle">Learned symmetries</text>
<g>
<use href="#cb" x="1439" y="782" width="62" height="56"/><use href="#cb" x="1502" y="782" width="62" height="56"/><use href="#cb" x="1565" y="782" width="62" height="56"/><use href="#cb" x="1628" y="782" width="62" height="56"/><use href="#cb" x="1691" y="782" width="62" height="56"/><use href="#cb" x="1754" y="782" width="62" height="56"/><use href="#cb" x="1817" y="782" width="62" height="56"/>
<use href="#cb" x="1439" y="908" width="62" height="56"/><use href="#cb" x="1502" y="908" width="62" height="56"/><use href="#cb" x="1565" y="908" width="62" height="56"/><use href="#cb" x="1628" y="908" width="62" height="56"/><use href="#cb" x="1691" y="908" width="62" height="56"/><use href="#cb" x="1754" y="908" width="62" height="56"/><use href="#cb" x="1817" y="908" width="62" height="56"/>
</g>
<g fill="none" stroke-width="2.2">
<g transform="translate(1470 808)"><ellipse cy="-7" rx="15" ry="6" stroke="#d03040"/><ellipse cy="8" rx="15" ry="6" stroke="#4a86c8"/></g>
<g transform="translate(1533 808) rotate(-10)"><ellipse cy="-7" rx="15" ry="5" stroke="#d03040"/><ellipse cy="3" rx="15" ry="5" stroke="#4a86c8"/><ellipse cy="10" rx="15" ry="5" stroke="#4a86c8"/></g>
<g transform="translate(1596 808) rotate(-20)"><ellipse cy="-8" rx="15" ry="4" stroke="#4a86c8"/><ellipse rx="16" ry="4" stroke="#d03040"/><ellipse cy="8" rx="15" ry="4" stroke="#4a86c8"/></g>
<g transform="translate(1659 808) rotate(-35)"><line x1="-16" y1="-6" x2="10" y2="-6" stroke="#4a86c8" stroke-width="3"/><line x1="-18" x2="18" stroke="#d03040" stroke-width="3"/><line x1="-8" y1="7" x2="16" y2="7" stroke="#4a86c8" stroke-width="3"/></g>
<g transform="translate(1722 808) rotate(-55)"><ellipse cy="-7" rx="15" ry="5" stroke="#4a86c8"/><ellipse rx="16" ry="5" stroke="#d03040"/><ellipse cy="7" rx="15" ry="5" stroke="#4a86c8"/></g>
<g transform="translate(1785 808) rotate(-70)"><ellipse cy="-6" rx="15" ry="7" stroke="#4a86c8"/><ellipse cy="4" rx="15" ry="7" stroke="#d03040"/></g>
<g transform="translate(1848 808) rotate(-90)"><ellipse cy="-7" rx="15" ry="8" stroke="#4a86c8"/><ellipse cy="8" rx="15" ry="8" stroke="#d03040"/></g>
<g transform="translate(1470 934) rotate(-35)"><line x1="-16" y1="-6" x2="10" y2="-6" stroke="#4a86c8" stroke-width="4"/><line x1="-18" x2="18" stroke="#d03040" stroke-width="3"/><line x1="-8" y1="7" x2="16" y2="7" stroke="#4a86c8" stroke-width="4"/></g>
<g transform="translate(1533 934) rotate(-40)"><ellipse cy="-6" rx="15" ry="3" stroke="#4a86c8" stroke-width="3"/><ellipse rx="16" ry="4" stroke="#d03040"/><ellipse cy="7" rx="15" ry="3" stroke="#4a86c8" stroke-width="3"/></g>
<g transform="translate(1596 934) rotate(-55)"><ellipse cy="-7" rx="15" ry="6" stroke="#4a86c8"/><ellipse rx="16" ry="6" stroke="#d03040"/><ellipse cy="7" rx="15" ry="6" stroke="#4a86c8"/></g>
<g transform="translate(1659 934) rotate(-65)"><ellipse cy="-4" rx="16" ry="9" stroke="#4a86c8"/><ellipse cy="4" rx="16" ry="9" stroke="#d03040"/></g>
<g transform="translate(1722 934) rotate(-90)"><ellipse cy="-5" rx="16" ry="11" stroke="#4a86c8"/><ellipse cy="5" rx="16" ry="11" stroke="#d03040"/><ellipse rx="16" ry="9" stroke="#4a86c8"/></g>
<g transform="translate(1785 934)"><ellipse cx="-3" rx="14" ry="15" stroke="#4a86c8"/><ellipse cx="3" cy="-3" rx="14" ry="10" stroke="#d03040"/></g>
<g transform="translate(1848 934)"><ellipse cy="-5" rx="15" ry="9" stroke="#d03040"/><ellipse cy="3" rx="15" ry="9" stroke="#4a86c8"/><ellipse cy="9" rx="13" ry="7" stroke="#4a86c8"/></g>
</g>
<text x="1442" y="862" class="m" font-size="27">θ = 0</text>
<text x="1791" y="862" class="m" font-size="27">θ = π/2</text>
<line x1="1542" y1="857" x2="1771" y2="857" stroke="#000" stroke-width="3" marker-start="url(#ak)" marker-end="url(#ak)"/>
<text x="1442" y="994" font-size="24">more <tspan class="m" font-size="27">G</tspan><tspan class="m" font-size="17" dy="5">1</tspan></text>
<text x="1796" y="994" font-size="24">more <tspan class="m" font-size="27">G</tspan><tspan class="m" font-size="17" dy="5">3</tspan></text>
<line x1="1542" y1="992" x2="1771" y2="992" stroke="#000" stroke-width="3" marker-start="url(#ak)" marker-end="url(#ak)"/>
<!-- Synthetic paragraph -->
<g font-size="38">
<text x="1901" y="449">Synthetic</text><text x="2255" y="449" text-anchor="end">linear</text>
<text x="1901" y="500">systems,</text><text x="2255" y="500" text-anchor="end">examples</text>
<text x="1901" y="551">of</text><text x="2255" y="551" text-anchor="end">smooth</text>
<text x="1901" y="604">transitions</text><text x="2255" y="604" text-anchor="end">between</text>
<text x="1901" y="655">dynamics in dLDS.</text>
<text x="1901" y="757">dLDS</text><text x="2255" y="757" text-anchor="end">efficiently</text>
<text x="1901" y="808">learns</text><text x="2070" y="808">a</text><text x="2255" y="808" text-anchor="end">single</text>
<text x="1901" y="859">dictionary</text><text x="2255" y="859" text-anchor="end">element</text>
<text x="1901" y="910">while</text><text x="2051" y="910">rSLDS</text><text x="2255" y="910" text-anchor="end">[2]</text>
<text x="1901" y="961">requires</text><text x="2255" y="961" text-anchor="end">redundant</text>
<text x="1901" y="1012">systems.</text>
</g>
<!-- Discrete time -->
<text x="1151" y="1099" font-size="70" class="hb" textLength="492" lengthAdjust="spacingAndGlyphs">Discrete Time:</text>
<text x="1664" y="1099" font-size="46" class="hb" textLength="406" lengthAdjust="spacingAndGlyphs">FitzHugh-Nagumo</text>
<g font-size="38">
<text x="1148" y="1156" textLength="296" lengthAdjust="spacingAndGlyphs">dLDS infers more</text>
<text x="1148" y="1207">which is not possible with switching models.</text>
<text x="2012" y="1156">· of sub-dynamics <tspan class="m" font-size="42">f</tspan><tspan class="m" font-size="28" dy="8">m</tspan></text>
</g>
<rect x="1457" y="1101" width="551" height="101" fill="#fff"/>
<g class="m" font-size="25" fill="#222">
<text x="1465" y="1127" textLength="539" lengthAdjust="spacingAndGlyphs">D   ←   D + η<tspan font-size="16" dy="4">D</tspan><tspan dy="-4">∇</tspan><tspan font-size="16" dy="4">D</tspan><tspan dy="-4"> − ∑ log(P(y</tspan><tspan font-size="16" dy="4">t</tspan><tspan dy="-4">|D, x</tspan><tspan font-size="16" dy="4">t</tspan><tspan dy="-4">)P(x</tspan><tspan font-size="16" dy="4">t</tspan><tspan dy="-4">|{f</tspan><tspan font-size="16" dy="4">m</tspan><tspan dy="-4">}, x</tspan><tspan font-size="16" dy="4">t−1</tspan><tspan dy="-4">))</tspan></text>
<text x="1461" y="1180" textLength="535" lengthAdjust="spacingAndGlyphs">f<tspan font-size="16" dy="4">m</tspan><tspan dy="-4">   ←   f</tspan><tspan font-size="16" dy="4">m</tspan><tspan dy="-4"> + η</tspan><tspan font-size="16" dy="4">f</tspan><tspan dy="-4"> ∑ ∇</tspan><tspan font-size="16" dy="4">fm</tspan><tspan dy="-4"> log(P(y</tspan><tspan font-size="16" dy="4">t</tspan><tspan dy="-4">|D, x</tspan><tspan font-size="16" dy="4">t</tspan><tspan dy="-4">)P(x</tspan><tspan font-size="16" dy="4">t</tspan><tspan dy="-4">|{f</tspan><tspan font-size="16" dy="4">m</tspan><tspan dy="-4">}, x</tspan><tspan font-size="16" dy="4">t−1</tspan><tspan dy="-4">))</tspan></text>
<text x="1562" y="1150" font-size="15">t</text>
</g>
<!-- gray band -->
<rect x="1133" y="1516" width="1256" height="14" fill="#e4e4e4"/>
<!-- Plot A -->
<text transform="rotate(-90 1141 1355)" x="1141" y="1355" font-size="27" font-weight="bold" text-anchor="middle" dominant-baseline="central" textLength="248" lengthAdjust="spacingAndGlyphs">Unregularized Model</text>
<text transform="rotate(-90 1183 1365)" x="1183" y="1365" font-size="30" fill="#22aa22" text-anchor="middle" dominant-baseline="central" textLength="148" lengthAdjust="spacingAndGlyphs">Voltage (AU)</text>
<text x="1179" y="1260" font-size="36">A</text>
<rect x="1224" y="1249" width="378" height="212" fill="none" stroke="#d0d0d0" stroke-width="1.5"/>
<g font-size="22" fill="#22aa22" text-anchor="end"><text x="1220" y="1270">2</text><text x="1220" y="1316">1</text><text x="1220" y="1360">0</text><text x="1220" y="1405">−1</text><text x="1220" y="1454">−2</text></g>
<g stroke-width="1.5"><line x1="1266" y1="1249" x2="1266" y2="1461" stroke="#b070c8"/><line x1="1498" y1="1249" x2="1498" y2="1461" stroke="#b070c8"/><line x1="1578" y1="1249" x2="1578" y2="1461" stroke="#b070c8"/><line x1="1384" y1="1249" x2="1384" y2="1461" stroke="#e03030"/><line x1="1462" y1="1249" x2="1462" y2="1461" stroke="#e03030"/></g>
<path d="M1226,1320 Q1240,1300 1262,1318 Q1300,1338 1345,1345 L1349,1318 Q1380,1330 1460,1345 L1465,1318 Q1500,1332 1575,1345 L1579,1320 Q1590,1325 1600,1335" fill="none" stroke="#c07cd0" stroke-width="2.5" stroke-dasharray="8 5"/>
<path d="M1226,1350 L1262,1354 Q1320,1358 1345,1356 L1380,1357 Q1440,1358 1460,1356 L1500,1357 L1600,1355" fill="none" stroke="#ff6a6a" stroke-width="2.5" stroke-dasharray="8 5"/>
<path d="M1226,1318 L1232,1268 Q1240,1258 1250,1285 Q1262,1305 1268,1318 L1271,1446 L1340,1365 L1349,1262 Q1360,1262 1370,1290 Q1378,1310 1382,1318 L1386,1446 L1455,1365 L1465,1262 Q1476,1262 1486,1290 Q1495,1310 1498,1318 L1502,1446 L1570,1365 L1579,1262 Q1590,1262 1600,1290" fill="none" stroke="#1a1ad8" stroke-width="3"/>
<g fill="none" stroke="#10c890" stroke-width="3.5"><path d="M1232,1268 Q1240,1258 1250,1285 Q1262,1305 1268,1318"/><path d="M1349,1262 Q1360,1262 1370,1290 Q1378,1310 1382,1318"/><path d="M1465,1262 Q1476,1262 1486,1290 Q1495,1310 1498,1318"/><path d="M1579,1262 Q1590,1262 1600,1290"/></g>
<rect x="1233" y="1263" width="32" height="6" fill="#2a9ac8"/><text x="1275" y="1273" font-size="18">v</text>
<g font-size="18"><line x1="1531" y1="1268" x2="1560" y2="1268" stroke="#c07cd0" stroke-width="2" stroke-dasharray="6 3"/><text x="1568" y="1274">c 1</text><line x1="1531" y1="1292" x2="1560" y2="1292" stroke="#ff6a6a" stroke-width="2" stroke-dasharray="6 3"/><text x="1568" y="1298">c 2</text></g>
<circle cx="1262" cy="1321" r="7" fill="#1060e0"/><circle cx="1349" cy="1265" r="7" fill="#20e090"/><circle cx="1502" cy="1446" r="7" fill="#1010e0"/>
<text transform="rotate(-30 1272 1318)" x="1272" y="1318" class="m" font-size="20" fill="#1040d0">t = 100</text>
<text transform="rotate(-20 1316 1256)" x="1316" y="1256" class="m" font-size="20" fill="#10b070">t = 332</text>
<text x="1515" y="1444" class="m" font-size="20" fill="#1030d0">t = 733</text>
<text x="1413" y="1476" font-size="22" font-weight="bold" text-anchor="middle" textLength="100" lengthAdjust="spacingAndGlyphs">Time (AU)</text>
<g font-size="22" fill="#cc0000"><text x="1616" y="1272">50</text><text x="1616" y="1315">25</text><text x="1616" y="1359">0</text><text x="1616" y="1432">25</text><text x="1616" y="1478">50</text></g>
<text transform="rotate(-90 1668 1359)" x="1668" y="1359" font-size="34" fill="#cc0000" text-anchor="middle" dominant-baseline="central" textLength="148" lengthAdjust="spacingAndGlyphs">Coefficients</text>
<!-- Plot B -->
<text x="1714" y="1262" font-size="36">B</text>
<text x="1767" y="1250" class="m" font-size="44" fill="#f4a0a0">c<tspan font-size="28" dy="6">2</tspan></text>
<text x="1917" y="1397" class="m" font-size="44" fill="#d8a8d8">c<tspan font-size="28" dy="6">1</tspan></text>
<g stroke="#888" stroke-width="1.2"><line x1="1813" y1="1234" x2="1813" y2="1504"/><line x1="1689" y1="1367" x2="1958" y2="1367"/></g>
<line x1="1705" y1="1475" x2="1950" y2="1310" stroke="#2060e0" stroke-width="2.5" stroke-dasharray="2 10" stroke-linecap="round"/>
<line x1="1840" y1="1372" x2="1913" y2="1323" stroke="#1030e0" stroke-width="3"/>
<line x1="1808" y1="1403" x2="1842" y2="1372" stroke="#20c0a0" stroke-width="3"/>
<circle cx="1913" cy="1323" r="5" fill="#1030e0"/><circle cx="1845" cy="1370" r="5" fill="#20e090"/><circle cx="1805" cy="1405" r="5" fill="#2060e0"/>
<text transform="rotate(-40 1882 1322)" x="1882" y="1322" class="m" font-size="20" fill="#1030d0">t = 733</text>
<text transform="rotate(-50 1776 1425)" x="1776" y="1425" class="m" font-size="20" fill="#1050d0">t = 100</text>
<text transform="rotate(-50 1858 1428)" x="1858" y="1428" class="m" font-size="20" fill="#10b070">t = 332</text>
<!-- C hatches -->
<text x="1972" y="1265" font-size="36">C</text>
<text x="2033" y="1247" class="mb" font-size="40" fill="#1a40d8">v <tspan font-style="normal" font-weight="normal">↓</tspan></text>
<text x="2132" y="1239" class="mb" font-size="26" fill="#22cc44">AP peak</text>
<text x="2248" y="1226" class="mb" font-size="24" fill="#1a40d8">hyper –</text>
<text x="2248" y="1252" class="mb" font-size="24" fill="#1a40d8">polarization</text>
<rect x="2016" y="1275" width="102" height="120" fill="url(#hbl)"/>
<rect x="2132" y="1275" width="102" height="120" fill="url(#hgr)"/>
<rect x="2247" y="1275" width="98" height="120" fill="url(#hvi)"/>
<g class="m" font-size="32"><text x="2024" y="1313">F̂<tspan font-size="22" dy="6">100</tspan></text><text x="2149" y="1313">F̂<tspan font-size="22" dy="6">332</tspan></text><text x="2255" y="1313">F̂<tspan font-size="22" dy="6">733</tspan></text></g>
<!-- E phase -->
<rect x="2012" y="1412" width="306" height="196" fill="#fff"/>
<text x="1967" y="1430" font-size="36">E</text>
<rect x="1996" y="1420" width="14" height="179" fill="url(#cb1)"/>
<text transform="rotate(-90 1983 1516)" x="1983" y="1516" font-size="20" text-anchor="middle" dominant-baseline="central">Voltage (AU)</text>
<path d="M2043,1420 V1602 H2315" fill="none" stroke="#333" stroke-width="2.5"/>
<text x="2014" y="1510" class="m" font-size="34" transform="rotate(-90 2024 1504)">w</text>
<text x="2168" y="1640" class="m" font-size="34">v</text>
<path d="M2066,1448 L2218,1437" stroke="#1030e8" stroke-width="8" stroke-dasharray="3 3" fill="none"/>
<path d="M2218,1437 C2260,1440 2280,1500 2286,1553" stroke="#20c0a0" stroke-width="8" fill="none"/>
<path d="M2286,1553 L2200,1572 L2124,1584" stroke="#1860e0" stroke-width="8" stroke-dasharray="4 2" fill="none"/>
<path d="M2124,1584 C2100,1560 2075,1500 2066,1448" stroke="#1020e8" stroke-width="8" fill="none"/>
<path d="M2150,1560 L2260,1545" stroke="#2050e0" stroke-width="6" stroke-dasharray="3 3" fill="none"/>
<circle cx="2066" cy="1448" r="12" fill="#1030e8"/><circle cx="2218" cy="1437" r="11" fill="#1050e0"/><circle cx="2286" cy="1553" r="13" fill="#20f080"/>
<path d="M2080,1480 Q2085,1530 2100,1565" stroke="#000" stroke-width="3" fill="none" marker-end="url(#ak)"/>
<text transform="rotate(70 2090 1495)" x="2090" y="1495" class="mb" font-size="18">time</text>
<text x="2050" y="1437" class="m" font-size="19" fill="#1030d0">t = 733</text>
<text x="2198" y="1425" class="m" font-size="19" fill="#1030d0">t = 100</text>
<text x="2292" y="1550" class="m" font-size="19" fill="#10b070">332</text>
<text transform="rotate(-90 2352 1614)" x="2352" y="1614" font-size="30" font-weight="bold" fill="#b8b8b8" text-anchor="middle" dominant-baseline="central">Sparse</text>
<text transform="rotate(-90 2384 1614)" x="2384" y="1614" font-size="30" font-weight="bold" fill="#b8b8b8" text-anchor="middle" dominant-baseline="central">decomposition</text>
<path d="M2318,1565 Q2345,1640 2296,1690" fill="none" stroke="#c4c4c4" stroke-width="10" marker-end="url(#agr)"/>
<!-- Plot F -->
<text transform="rotate(-90 1141 1665)" x="1141" y="1665" font-size="27" font-weight="bold" text-anchor="middle" dominant-baseline="central" textLength="255" lengthAdjust="spacingAndGlyphs">Sparse Regularization</text>
<text transform="rotate(-90 1183 1670)" x="1183" y="1670" font-size="30" fill="#22aa22" text-anchor="middle" dominant-baseline="central" textLength="148" lengthAdjust="spacingAndGlyphs">Voltage (AU)</text>
<text x="1179" y="1573" font-size="36">F</text>
<rect x="1229" y="1563" width="375" height="213" fill="none" stroke="#d0d0d0" stroke-width="1.5"/>
<g font-size="22" fill="#22aa22" text-anchor="end"><text x="1224" y="1584">2</text><text x="1224" y="1630">1</text><text x="1224" y="1676">0</text><text x="1224" y="1722">−1</text><text x="1224" y="1768">−2</text></g>
<g stroke-width="1.8" stroke-dasharray="9 5"><line x1="1258" y1="1563" x2="1258" y2="1776" stroke="#ff6a6a"/><line x1="1324" y1="1563" x2="1324" y2="1776" stroke="#ff6a6a"/><line x1="1432" y1="1563" x2="1432" y2="1776" stroke="#ff6a6a"/><line x1="1552" y1="1563" x2="1552" y2="1776" stroke="#ff6a6a"/><line x1="1602" y1="1563" x2="1602" y2="1776" stroke="#ff6a6a"/><line x1="1369" y1="1563" x2="1369" y2="1720" stroke="#c07cd0"/><line x1="1486" y1="1563" x2="1486" y2="1720" stroke="#c07cd0"/><line x1="1256" y1="1660" x2="1256" y2="1740" stroke="#c07cd0"/></g>
<path d="M1229,1667 L1604,1667" stroke="#ff6a6a" stroke-width="2.2" stroke-dasharray="8 5"/>
<path d="M1229,1669 L1604,1669" stroke="#c07cd0" stroke-width="2.2" stroke-dasharray="8 5"/>
<path d="M1231,1634 L1237,1580 Q1245,1574 1255,1600 Q1265,1620 1268,1632 L1272,1760 L1345,1680 L1353,1578 Q1364,1578 1374,1604 Q1382,1624 1384,1632 L1388,1760 L1458,1680 L1465,1578 Q1476,1578 1486,1604 Q1495,1624 1500,1632 L1504,1760 L1572,1680 L1579,1578 Q1590,1578 1602,1604" fill="none" stroke="#1a1ad8" stroke-width="3"/>
<g fill="none" stroke="#10c890" stroke-width="3.5"><path d="M1237,1580 Q1245,1574 1255,1600 Q1265,1620 1268,1632"/><path d="M1353,1578 Q1364,1578 1374,1604 Q1382,1624 1384,1632"/><path d="M1465,1578 Q1476,1578 1486,1604 Q1495,1624 1500,1632"/><path d="M1579,1578 Q1590,1578 1602,1604"/></g>
<rect x="1236" y="1580" width="32" height="6" fill="#2a9ac8"/><text x="1278" y="1590" font-size="18">v</text>
<g font-size="18"><line x1="1533" y1="1583" x2="1562" y2="1583" stroke="#c07cd0" stroke-width="2" stroke-dasharray="6 3"/><text x="1570" y="1589">c 1</text><line x1="1533" y1="1607" x2="1562" y2="1607" stroke="#ff6a6a" stroke-width="2" stroke-dasharray="6 3"/><text x="1570" y="1613">c 2</text></g>
<circle cx="1266" cy="1632" r="7" fill="#1060e0"/><circle cx="1353" cy="1580" r="7" fill="#20e090"/><circle cx="1504" cy="1760" r="7" fill="#1010e0"/>
<text transform="rotate(-40 1275 1628)" x="1275" y="1628" class="m" font-size="20" fill="#1040d0">t = 100</text>
<text transform="rotate(-20 1322 1570)" x="1322" y="1570" class="m" font-size="20" fill="#10b070">t = 332</text>
<text x="1512" y="1758" class="m" font-size="20" fill="#1030d0">t = 733</text>
<text x="1415" y="1790" font-size="22" font-weight="bold" text-anchor="middle" textLength="100" lengthAdjust="spacingAndGlyphs">Time (AU)</text>
<g font-size="22" fill="#cc0000"><text x="1616" y="1585">50</text><text x="1616" y="1628">25</text><text x="1616" y="1672">0</text><text x="1616" y="1745">25</text><text x="1616" y="1791">50</text></g>
<text transform="rotate(-90 1668 1670)" x="1668" y="1670" font-size="34" fill="#cc0000" text-anchor="middle" dominant-baseline="central" textLength="148" lengthAdjust="spacingAndGlyphs">Coefficients</text>
<!-- Plot G -->
<text x="1701" y="1571" font-size="36">G</text>
<text x="1767" y="1576" class="m" font-size="44" fill="#f4a0a0">c<tspan font-size="28" dy="6">2</tspan></text>
<text x="1917" y="1714" class="m" font-size="44" fill="#d8a8d8">c<tspan font-size="28" dy="6">1</tspan></text>
<g stroke="#888" stroke-width="1.2"><line x1="1809" y1="1548" x2="1809" y2="1826"/><line x1="1693" y1="1680" x2="1950" y2="1680"/></g>
<line x1="1810" y1="1550" x2="1810" y2="1822" stroke="#2040e0" stroke-width="2.5" stroke-dasharray="3 4"/>
<line x1="1700" y1="1684" x2="1950" y2="1672" stroke="#20c080" stroke-width="2.5" stroke-dasharray="3 5"/>
<line x1="1811" y1="1628" x2="1812" y2="1676" stroke="#20c080" stroke-width="3"/>
<circle cx="1811" cy="1628" r="5" fill="#20e090"/><circle cx="1813" cy="1676" r="5" fill="#1030e0"/>
<g class="m" font-size="20"><text x="1825" y="1634" fill="#10b070">t = 332</text><text x="1825" y="1660" fill="#1030d0">t = 733</text><text x="1838" y="1676" fill="#1030d0">t = 100</text></g>
<!-- H -->
<text x="1971" y="1703" font-size="36">H</text>
<rect x="2016" y="1698" width="97" height="120" fill="url(#hbl)"/>
<rect x="2127" y="1698" width="101" height="120" fill="url(#hgh)"/>
<rect x="2241" y="1698" width="101" height="120" fill="url(#hvi)"/>
<g class="m" font-size="32"><text x="2020" y="1726">F̂<tspan font-size="22" dy="6">100</tspan></text><text x="2140" y="1726">F̂<tspan font-size="22" dy="6">332</tspan></text><text x="2248" y="1726">F̂<tspan font-size="22" dy="6">733</tspan></text></g>
<!-- Calcium -->
<text x="1148" y="1869" font-size="42" class="hb" textLength="806" lengthAdjust="spacingAndGlyphs">Calcium imaging from <tspan font-style="italic">c. elegans</tspan> <tspan font-style="italic" font-size="34">[3]</tspan></text>
<g font-size="39">
<text x="1158" y="1948">We benchmarked the</text>
<text x="1150" y="1996">discrete-time dLDS</text>
<text x="1150" y="2044">against rSLDS [2],</text>
<text x="1150" y="2094">revealing qualitative</text>
<text x="1150" y="2144">differences for further</text>
<text x="1150" y="2194">exploration.</text>
</g>
<rect x="1586" y="1893" width="8" height="13" fill="#000"/>
<text x="2000" y="1914" font-size="26" font-weight="bold" text-anchor="middle" textLength="180" lengthAdjust="spacingAndGlyphs">Original Data Y</text>
<text x="2000" y="2109" font-size="26" font-weight="bold" text-anchor="middle" textLength="140" lengthAdjust="spacingAndGlyphs">Estimated Y</text>
<text transform="rotate(-90 1597 2075)" x="1597" y="2075" font-size="26" text-anchor="middle" dominant-baseline="central" textLength="202" lengthAdjust="spacingAndGlyphs">Fluorescence(AU)</text>
<g stroke="#eee" stroke-width="2"><line x1="1751" y1="1925" x2="1751" y2="2008"/><line x1="1952" y1="1925" x2="1952" y2="2008"/><line x1="2155" y1="1925" x2="2155" y2="2008"/><line x1="2257" y1="1925" x2="2257" y2="2008"/><line x1="1751" y1="2121" x2="1751" y2="2201"/><line x1="1952" y1="2121" x2="1952" y2="2201"/><line x1="2155" y1="2121" x2="2155" y2="2201"/><line x1="2257" y1="2121" x2="2257" y2="2201"/></g>
<rect x="1650" y="1925" width="731" height="84" fill="url(#ca1)"/>
<rect x="1650" y="2121" width="731" height="80" fill="url(#ca2)"/>
<path d="M2335,2007 L2338,1935 L2341,2007" stroke="#d95319" stroke-width="2" fill="none"/>
<g fill="none" stroke="#555" stroke-width="1.5"><path d="M1650,1925 V2008 H2381"/><path d="M1650,2121 V2201 H2381"/></g>
<g font-size="24" fill="#222">
<g text-anchor="end"><text x="1642" y="1937">2</text><text x="1642" y="1975">1</text><text x="1642" y="2015">0</text><text x="1642" y="2131">2</text><text x="1642" y="2170">1</text><text x="1642" y="2208">0</text></g>
<g text-anchor="middle">
<text x="1650" y="2044">0</text><text x="1751" y="2044">100</text><text x="1851" y="2044">200</text><text x="1952" y="2044">300</text><text x="2054" y="2044">400</text><text x="2155" y="2044">500</text><text x="2257" y="2044">600</text><text x="2359" y="2044">700</text>
<text x="2000" y="2075">Time (s)</text>
<text x="1650" y="2237">0</text><text x="1751" y="2237">100</text><text x="1851" y="2237">200</text><text x="1952" y="2237">300</text><text x="2054" y="2237">400</text><text x="2155" y="2237">500</text><text x="2257" y="2237">600</text><text x="2359" y="2237">700</text>
<text x="2000" y="2268">Time (s)</text>
</g></g>

<!-- ================= RIGHT COLUMN ================= -->
<text x="2283" y="350" font-size="44" class="hb" textLength="366" lengthAdjust="spacingAndGlyphs">Lorenz attractor</text>
<text x="2714" y="350" class="mb" font-size="40" textLength="732" lengthAdjust="spacingAndGlyphs">x = σ(y − x); y = x(ρ − z) − y; z = xy − βz</text>
<g font-size="38">
<text x="2283" y="418" textLength="1152" lengthAdjust="spacing">we learn a baseline system (green) and sparse modulations that</text>
<text x="2283" y="470" textLength="1152" lengthAdjust="spacing">change smoothly over time. The coefficient space shows mostly</text>
<text x="2283" y="520" textLength="1152" lengthAdjust="spacing">sparse activation; some dynamics interchange smoothly over</text>
<text x="2283" y="569">time.</text>
</g>
<text transform="rotate(-90 2302 683)" x="2302" y="683" font-size="48" class="hb" text-anchor="middle" dominant-baseline="central" textLength="123" lengthAdjust="spacingAndGlyphs">dLDS</text>
<text transform="rotate(-90 2363 685)" x="2363" y="685" font-size="36" class="hb" text-anchor="middle" dominant-baseline="central" textLength="203" lengthAdjust="spacingAndGlyphs">(our model)</text>
<text transform="rotate(-90 2331 947)" x="2331" y="947" font-size="46" class="hb" text-anchor="middle" dominant-baseline="central" textLength="187" lengthAdjust="spacingAndGlyphs">rSLDS <tspan font-size="32">[2]</tspan></text>
<!-- A -->
<g font-size="30" font-weight="bold"><text x="2403" y="574">A</text><text x="2773" y="574">B</text><text x="3034" y="574">C</text><text x="3217" y="574">D</text><text x="2403" y="879">E</text><text x="2773" y="879">F</text><text x="3034" y="879">G</text><text x="3217" y="879">H</text></g>
<text x="2458" y="591" font-size="22">dLDS</text>
<g class="m" font-size="26">
<line x1="2564" y1="572" x2="2578" y2="572" stroke="#e02020" stroke-width="2"/><text x="2581" y="580">c<tspan font-size="17" dy="4">1</tspan></text>
<line x1="2634" y1="572" x2="2648" y2="572" stroke="#2020e0" stroke-width="2"/><text x="2651" y="580">c<tspan font-size="17" dy="4">3</tspan></text>
<line x1="2697" y1="572" x2="2711" y2="572" stroke="#f0a020" stroke-width="2"/><text x="2714" y="580">c<tspan font-size="17" dy="4">5</tspan></text>
<line x1="2564" y1="599" x2="2578" y2="599" stroke="#209020" stroke-width="2"/><text x="2581" y="607">c<tspan font-size="17" dy="4">2</tspan></text>
<line x1="2634" y1="599" x2="2648" y2="599" stroke="#c8c800" stroke-width="2"/><text x="2651" y="607">c<tspan font-size="17" dy="4">4</tspan></text>
</g>
<path d="M2455,629 V783 H2756" fill="none" stroke="#bbb" stroke-width="1.2"/>
<line x1="2455" y1="684" x2="2756" y2="684" stroke="#999" stroke-width="1"/>
<g fill="none" stroke-width="1.6">
<path stroke="#2a9a2a" d="M2457,700 L2460,745 L2463,770 L2468,745 L2475,760 L2483,748 L2492,740 L2500,755 L2508,742 L2516,735 L2525,752 L2533,740 L2540,725 L2548,750 L2556,758 L2566,760 L2570,720 L2575,758 L2590,762 L2600,760 L2612,760 L2618,735 L2622,762 L2632,760 L2636,722 L2640,760 L2650,762 L2660,758 L2672,762 L2678,745 L2684,762 L2695,760 L2704,722 L2708,760 L2720,762 L2730,755 L2735,760 L2742,748 L2748,760 L2754,740"/>
<path stroke="#2020e0" d="M2457,684 L2462,640 L2466,684 L2472,700 L2476,635 L2480,684 L2488,672 L2495,660 L2502,684 L2510,665 L2518,650 L2525,684 L2532,668 L2540,655 L2548,684 L2556,670 L2563,648 L2569,640 L2572,684 L2636,684 L2636,640 L2640,684 L2704,684 L2704,640 L2708,684 L2745,684 L2750,670 L2754,684"/>
<path stroke="#f0a020" d="M2457,684 L2530,684 L2535,670 L2540,690 L2545,684 L2600,684 L2605,672 L2610,684 L2670,684 L2675,690 L2680,684 L2740,684 L2745,675 L2754,684"/>
<path stroke="#c8c800" d="M2457,700 L2460,720 L2465,684 L2560,684 L2565,700 L2570,684 L2620,684 L2625,698 L2630,684 L2740,684 L2746,700 L2752,684"/>
<path stroke="#e02020" d="M2457,684 L2459,640 L2462,684"/>
</g>
<g font-size="18" text-anchor="end"><text x="2448" y="657">0.2</text><text x="2448" y="690">0</text><text x="2448" y="723">-0.2</text><text x="2448" y="756">-0.4</text></g>
<text transform="rotate(-90 2409 705)" x="2409" y="705" font-size="22" text-anchor="middle" dominant-baseline="central">Coeff. value</text>
<g font-size="19" text-anchor="middle"><text x="2457" y="805">0</text><text x="2747" y="805">1000</text><text x="2603" y="823" font-size="22">Time (AU)</text></g>
<!-- B recon -->
<text x="2815" y="574" font-size="21" textLength="176" lengthAdjust="spacingAndGlyphs">Reconstruction dLDS</text>
<g fill="none" stroke-linecap="round" stroke-width="6" stroke-dasharray="0.1 8">
<ellipse cx="2868" cy="700" rx="52" ry="75" transform="rotate(-25 2868 700)" stroke="#7070f0"/>
<ellipse cx="2870" cy="705" rx="38" ry="55" transform="rotate(-25 2870 705)" stroke="#3030e0"/>
<ellipse cx="2872" cy="708" rx="24" ry="35" transform="rotate(-25 2872 708)" stroke="#1a1ad8"/>
<path d="M2830,760 Q2850,800 2900,790" stroke="#f0a020" stroke-width="8"/>
<path d="M2812,700 Q2815,760 2850,780" stroke="#f0a020" stroke-width="8"/>
<ellipse cx="2960" cy="735" rx="50" ry="38" transform="rotate(-35 2960 735)" stroke="#3a9a3a"/>
<ellipse cx="2962" cy="738" rx="36" ry="26" transform="rotate(-35 2962 738)" stroke="#2a8a2a"/>
<ellipse cx="2964" cy="740" rx="22" ry="15" transform="rotate(-35 2964 740)" stroke="#2a8a2a"/>
<path d="M2960,680 Q3030,680 3025,740 Q3010,790 2950,790" stroke="#f07070"/>
<path d="M2915,750 Q2925,780 2940,785" stroke="#b8b800" stroke-width="10"/>
<path d="M2905,770 Q2890,800 2870,825" stroke="#2a40e0"/>
</g>
<!-- C patches -->
<rect x="3067" y="599" width="55" height="77" fill="url(#pr)"/><rect x="3067" y="692" width="55" height="77" fill="url(#pg)"/>
<rect x="3154" y="552" width="54" height="80" fill="url(#pb)"/><rect x="3154" y="647" width="54" height="76" fill="url(#py)"/><rect x="3154" y="736" width="54" height="80" fill="url(#po)"/>
<g class="m" font-size="24"><text x="3042" y="650">f<tspan font-size="16" dy="4">1</tspan></text><text x="3042" y="740">f<tspan font-size="16" dy="4">2</tspan></text><text x="3128" y="600">f<tspan font-size="16" dy="4">3</tspan></text><text x="3128" y="693">f<tspan font-size="16" dy="4">4</tspan></text><text x="3128" y="786">f<tspan font-size="16" dy="4">5</tspan></text></g>
<!-- D scatter -->
<g fill="none" stroke-width="2">
<line x1="3294" y1="574" x2="3294" y2="659" stroke="#20d080"/>
<line x1="3236" y1="632" x2="3294" y2="659" stroke="#2040e0" stroke-dasharray="4 3"/>
<line x1="3233" y1="753" x2="3294" y2="659" stroke="#2060e0" stroke-dasharray="3 4"/>
<line x1="3294" y1="659" x2="3362" y2="692" stroke="#20b0a0" stroke-width="3"/>
<line x1="3294" y1="659" x2="3294" y2="720" stroke="#f0a020" stroke-dasharray="4 3"/>
<path d="M3296,622 L3352,688 M3300,640 L3322,690 M3296,630 L3340,665 M3305,650 L3345,690" stroke="#1a2ae0" stroke-dasharray="3 3"/>
</g>
<g class="m" font-size="26"><text x="3305" y="577">c<tspan font-size="17" dy="4">5</tspan></text><text x="3239" y="610">c<tspan font-size="17" dy="4">4</tspan></text><text x="3217" y="717">c<tspan font-size="17" dy="4">3</tspan></text></g>
<rect x="3380" y="569" width="10" height="217" fill="url(#cb2)"/>
<g font-size="17"><text x="3396" y="580">1000</text><text x="3396" y="790">0</text></g>
<text transform="rotate(90 3418 678)" x="3418" y="678" font-size="21" text-anchor="middle" dominant-baseline="central">Time (AU)</text>
<rect x="2451" y="844" width="921" height="3" fill="#111"/>
<!-- E rSLDS -->
<text x="2452" y="887" font-size="22">rSLDS</text>
<path d="M2455,917 V1082 H2767" fill="none" stroke="#bbb" stroke-width="1.2"/>
<g fill="none" stroke-width="2">
<path d="M2458,1082 V925 M2463,1082 V925 M2470,1082 V925" stroke="#f0a020"/>
<path d="M2460,925 H2754" stroke="#2a9a2a"/>
<path d="M2475,925 V1082 M2569,925 V1082 M2613,925 V1082 M2636,925 V1082 M2682,925 V1082 M2704,925 V1082 M2750,925 V1082" stroke="#3040d8"/>
<path d="M2460,1081 H2754" stroke="#f0a020"/>
</g>
<g font-size="18" text-anchor="end"><text x="2448" y="931">1</text><text x="2448" y="1088">0</text></g>
<text transform="rotate(-90 2413 985)" x="2413" y="985" font-size="22" text-anchor="middle" dominant-baseline="central">Coeff. value</text>
<g font-size="19" text-anchor="middle"><text x="2457" y="1108">0</text><text x="2748" y="1108">1000</text><text x="2603" y="1128" font-size="22">Time (AU)</text></g>
<!-- F recon rSLDS -->
<text x="2815" y="879" font-size="21" textLength="180" lengthAdjust="spacingAndGlyphs">Reconstruction rSLDS</text>
<g fill="none" stroke-linecap="round" stroke-width="6" stroke-dasharray="0.1 8">
<ellipse cx="2852" cy="1005" rx="52" ry="72" transform="rotate(-20 2852 1005)" stroke="#5aa05a"/>
<ellipse cx="2855" cy="1010" rx="38" ry="52" transform="rotate(-20 2855 1010)" stroke="#2a8a2a"/>
<ellipse cx="2858" cy="1012" rx="22" ry="32" transform="rotate(-20 2858 1012)" stroke="#2a8a2a"/>
<ellipse cx="2960" cy="990" rx="55" ry="40" transform="rotate(-35 2960 990)" stroke="#5050f0"/>
<ellipse cx="2962" cy="992" rx="38" ry="27" transform="rotate(-35 2962 992)" stroke="#2020e0"/>
<ellipse cx="2964" cy="994" rx="22" ry="15" transform="rotate(-35 2964 994)" stroke="#2020e0"/>
<path d="M2960,935 Q3030,920 3025,980 Q3010,1040 2950,1060 Q2900,1090 2860,1105" stroke="#f07070"/>
<path d="M2860,1100 Q2840,1108 2830,1110" stroke="#f0a020" stroke-width="8"/>
</g>
<!-- G patches -->
<rect x="3067" y="906" width="55" height="77" fill="url(#pr)"/><rect x="3067" y="1000" width="55" height="76" fill="url(#pg)"/>
<rect x="3154" y="860" width="54" height="76" fill="url(#pb)"/><rect x="3154" y="953" width="54" height="74" fill="url(#py)"/><rect x="3154" y="1044" width="54" height="70" fill="url(#po)"/>
<g class="m" font-size="24"><text x="3042" y="956">f<tspan font-size="16" dy="4">1</tspan></text><text x="3042" y="1048">f<tspan font-size="16" dy="4">2</tspan></text><text x="3128" y="904">f<tspan font-size="16" dy="4">3</tspan></text><text x="3128" y="998">f<tspan font-size="16" dy="4">4</tspan></text><text x="3128" y="1090">f<tspan font-size="16" dy="4">5</tspan></text></g>
<!-- H scatter -->
<g fill="none" stroke-width="2">
<line x1="3254" y1="890" x2="3254" y2="1063" stroke="#f0a020" stroke-dasharray="5 4"/>
<line x1="3254" y1="1063" x2="3313" y2="978" stroke="#2040e0" stroke-dasharray="5 4"/>
<line x1="3254" y1="1063" x2="3355" y2="1117" stroke="#a0c020" stroke-dasharray="3 3"/>
</g>
<g fill="#1a2ae0"><circle cx="3254" cy="893" r="3"/><circle cx="3254" cy="932" r="3"/><circle cx="3254" cy="948" r="3"/><circle cx="3254" cy="1025" r="3"/><circle cx="3313" cy="978" r="3"/><circle cx="3284" cy="1020" r="3"/><circle cx="3254" cy="1063" r="4" fill="#20c0a0"/><circle cx="3300" cy="1088" r="3" fill="#20a0a0"/><circle cx="3340" cy="1108" r="3" fill="#20a0a0"/></g>
<g class="m" font-size="26"><text x="3261" y="893">c<tspan font-size="17" dy="4">5</tspan></text><text x="3313" y="964">c<tspan font-size="17" dy="4">3</tspan></text><text x="3342" y="1079">c<tspan font-size="17" dy="4">4</tspan></text></g>
<!-- tracking text -->
<g font-size="37">
<text x="2439" y="1186">dLDS can track</text><text x="2439" y="1238">smoothly</text><text x="2439" y="1289">changing</text><text x="2439" y="1341">dynamics by</text><text x="2439" y="1393">titrating the</text><text x="2439" y="1443">contributions</text><text x="2439" y="1494">of separate</text><text x="2439" y="1544">dynamical</text><text x="2439" y="1596">systems.</text>
</g>
<!-- tracking figure -->
<g fill="none" stroke-width="12" opacity="0.5">
<path d="M2920,1700 C2800,1650 2740,1400 2790,1280 C2840,1180 2900,1350 2910,1450 C2920,1550 2900,1650 2950,1660" stroke="#fbd8d8"/>
<ellipse cx="2860" cy="1460" rx="55" ry="150" transform="rotate(-12 2860 1460)" stroke="#c8f4c8"/>
<ellipse cx="2862" cy="1470" rx="35" ry="110" transform="rotate(-12 2862 1470)" stroke="#d4d4f8"/>
<ellipse cx="2866" cy="1475" rx="18" ry="70" transform="rotate(-12 2866 1475)" stroke="#c8f4c8"/>
<path d="M2950,1660 C3000,1560 3050,1420 3130,1330 C3200,1250 3260,1180 3290,1230 C3320,1290 3290,1500 3240,1620 C3200,1700 3150,1700 3130,1640 C3110,1560 3130,1450 3180,1400" stroke="#d0d0f8"/>
<path d="M2960,1640 C3010,1540 3060,1400 3140,1320 C3200,1260 3250,1200 3275,1235" stroke="#c8f4c8"/>
<ellipse cx="3180" cy="1480" rx="60" ry="140" transform="rotate(15 3180 1480)" stroke="#d4d4f8"/>
<ellipse cx="3175" cy="1490" rx="40" ry="100" transform="rotate(15 3175 1490)" stroke="#fbd8d8"/>
<path d="M2830,1370 C2900,1400 2980,1360 3050,1300" stroke="#c8f4c8"/>
<path d="M2800,1560 C2830,1640 2880,1700 2960,1690" stroke="#d4d4f8"/>
</g>
<g fill="none" stroke="#1a2a6c" stroke-width="3" stroke-dasharray="2 4">
<circle cx="2813" cy="1309" r="58"/><circle cx="3015" cy="1345" r="66"/><circle cx="2823" cy="1561" r="72"/><ellipse cx="2969" cy="1594" rx="30" ry="42"/><circle cx="3206" cy="1475" r="72"/>
</g>
<g fill="none" stroke-width="5">
<path d="M2775,1355 Q2778,1300 2800,1290 Q2815,1285 2855,1335" stroke="#ee2010"/>
<path d="M2970,1395 L3070,1330" stroke="#ee2010"/>
<path d="M2810,1495 L2870,1640 M2840,1498 L2880,1600" stroke="#ee2010"/>
<path d="M2975,1555 L2960,1632" stroke="#ee2010"/>
<path d="M3180,1405 L3150,1530 M3198,1405 L3170,1540 M3255,1425 L3225,1545" stroke="#ee2010"/>
</g>
<g stroke="#1a2a6c" stroke-width="1.5"><line x1="2714" y1="1277" x2="2790" y2="1309"/><line x1="2930" y1="1280" x2="2985" y2="1385"/><line x1="3009" y1="1262" x2="3010" y2="1370"/><line x1="3095" y1="1266" x2="3060" y2="1333"/><line x1="2706" y1="1515" x2="2841" y2="1551"/><line x1="3099" y1="1491" x2="3171" y2="1470"/><line x1="3343" y1="1545" x2="3245" y2="1489"/><line x1="3042" y1="1680" x2="2977" y2="1595"/></g>
<g fill="#ff2a10"><rect x="2683" y="1247" width="20" height="25"/><rect x="2899" y="1273" width="21" height="4"/><rect x="2981" y="1258" width="20" height="14"/><rect x="3065" y="1262" width="20" height="24"/><rect x="2678" y="1510" width="21" height="13"/><rect x="3070" y="1487" width="20" height="23"/><rect x="3315" y="1541" width="19" height="23"/><rect x="3013" y="1653" width="20" height="22"/></g>
<g fill="#2a1ae8"><rect x="2704" y="1260" width="20" height="12"/><rect x="2920" y="1257" width="20" height="20"/><rect x="3001" y="1236" width="20" height="21"/><rect x="3085" y="1240" width="20" height="22"/><rect x="2699" y="1473" width="19" height="37"/><rect x="3090" y="1462" width="20" height="25"/><rect x="3334" y="1516" width="21" height="25"/><rect x="3033" y="1663" width="20" height="12"/></g>
<g fill="#18f018"><rect x="2724" y="1222" width="21" height="50"/><rect x="2940" y="1226" width="20" height="51"/><rect x="3021" y="1223" width="21" height="34"/><rect x="3105" y="1238" width="21" height="24"/><rect x="2718" y="1510" width="20" height="7"/><rect x="3110" y="1481" width="20" height="6"/><rect x="3355" y="1534" width="20" height="7"/><rect x="3053" y="1625" width="20" height="50"/></g>
<g fill="#0f1f50"><circle cx="2714" cy="1277" r="5"/><circle cx="2930" cy="1280" r="5"/><circle cx="3009" cy="1262" r="5"/><circle cx="3095" cy="1266" r="5"/><circle cx="2706" cy="1515" r="5"/><circle cx="3099" cy="1491" r="5"/><circle cx="3343" cy="1545" r="5"/><circle cx="3042" cy="1680" r="5"/>
<circle cx="2790" cy="1309" r="6"/><circle cx="2985" cy="1385" r="6"/><circle cx="3010" cy="1370" r="6"/><circle cx="3060" cy="1333" r="6"/><circle cx="2841" cy="1551" r="6"/><circle cx="3171" cy="1470" r="6"/><circle cx="3245" cy="1489" r="6"/><circle cx="2977" cy="1595" r="6"/></g>
<g font-size="11" text-anchor="middle" font-weight="bold"><text x="2714" y="1217">t = 365</text><text x="2930" y="1219">t = 62</text><text x="3011" y="1217">t = 59</text><text x="3095" y="1231">t = 57</text><text x="2709" y="1468">t = 580</text><text x="3099" y="1456">t = 420</text><text x="3343" y="1511">t = 40</text><text x="3042" y="1619">t = 330</text></g>
<g class="m" font-size="15">
<text transform="rotate(55 2800 1275)" x="2800" y="1275">f₃ (green) is</text>
<text transform="rotate(55 2790 1290)" x="2790" y="1290">dominant</text>
<text transform="rotate(-55 2975 1400)" x="2975" y="1400">smooth change</text>
<text transform="rotate(-55 2990 1405)" x="2990" y="1405">in subdynamics</text>
<text transform="rotate(-55 3005 1410)" x="3005" y="1410">coefficients</text>
<text x="2780" y="1588">f₂ (blue) is</text><text x="2780" y="1604">dominant</text>
<text transform="rotate(-75 3210 1530)" x="3210" y="1530">f₁ &amp; f₂ are</text>
<text transform="rotate(-75 3226 1530)" x="3226" y="1530">dominant</text>
</g>
<text x="2962" y="1192" class="m" font-size="21">f₁ ↓, f₃ ↑</text>
<path d="M3105,1220 Q3000,1170 2920,1203" fill="none" stroke="#203a70" stroke-width="2" marker-end="url(#an)"/>
<rect x="3347" y="1165" width="103" height="107" fill="#fff" stroke="#eee" stroke-width="2"/>
<rect x="3353" y="1177" width="42" height="15" fill="#ff2010"/><rect x="3353" y="1209" width="42" height="15" fill="#b8b8f8"/><rect x="3353" y="1242" width="42" height="15" fill="#b8f8b8"/>
<g class="m" font-size="26"><text x="3408" y="1192">c<tspan font-size="17" dy="4">1</tspan></text><text x="3408" y="1224">c<tspan font-size="17" dy="4">2</tspan></text><text x="3408" y="1257">c<tspan font-size="17" dy="4">3</tspan></text></g>
<!-- Summary -->
<text x="2426" y="1712" font-size="70" class="hb" textLength="322" lengthAdjust="spacingAndGlyphs">Summary</text>
<g font-size="38">
<text x="2432" y="1771">dLDS</text><text x="2546" y="1771">is</text><text x="2601" y="1771">a</text><text x="2651" y="1771">manifold-flow</text><text x="2922" y="1771">inspired</text><text x="3091" y="1771">model</text><text x="3229" y="1771">of</text><text x="3431" y="1771" text-anchor="end">learning</text>
<text x="2432" y="1822">decomposed</text><text x="2706" y="1822">linear</text><text x="2853" y="1822">dynamical</text><text x="3080" y="1822">systems</text><text x="3271" y="1822">in</text><text x="3431" y="1822" text-anchor="end">both</text>
<text x="2432" y="1873">continuous-</text><text x="2682" y="1873">and</text><text x="2788" y="1873">discrete-time</text><text x="3059" y="1873">settings.</text><text x="3252" y="1873">It</text><text x="3431" y="1873" text-anchor="end">strictly</text>
<text x="2432" y="1924">generalizes</text><text x="2649" y="1924">the</text><text x="2729" y="1924">idea</text><text x="2824" y="1924">of</text><text x="2884" y="1924">switching</text><text x="3071" y="1924">linear</text><text x="3191" y="1924">systems</text><text x="3343" y="1924">to</text><text x="3431" y="1924" text-anchor="end">a</text>
<text x="2432" y="1975" textLength="999" lengthAdjust="spacing">model where linear combinations of a finite dictionary of</text>
<text x="2432" y="2025">systems can represent a richer set of dynamics.</text>
</g>
<text x="2426" y="2095" font-size="70" class="hb" textLength="382" lengthAdjust="spacingAndGlyphs">References</text>
<g font-size="20">
<text x="2434" y="2146" textLength="1011" lengthAdjust="spacing">[1] Mudrik, N., Chen, Y., Yezerets, E., Rozell, C. J., &amp; Charles, A. S. (2022). Decomposed Linear Dynamical</text>
<text x="2434" y="2175" textLength="1011" lengthAdjust="spacing">Systems (dLDS) for learning the latent components of neural dynamics. arXiv preprint arXiv:2206.02972.</text>
<text x="2434" y="2203" textLength="1011" lengthAdjust="spacing">[2] Glaser, J., Whiteway, M., Cunningham, J. P., Paninski, L., &amp; Linderman, S. (2020). Recurrent switching</text>
<text x="2434" y="2233" textLength="999" lengthAdjust="spacing">dynamical systems models for multiple interacting neural populations. Advances in neural information</text>
<text x="2434" y="2260">processing systems, 33, 14867-14878.</text>
<text x="2434" y="2290">[3] Manuel Zimmer. Kato2015 whole brain  imaging data, January 2021.</text>
</g>
</svg>
</body></html>
